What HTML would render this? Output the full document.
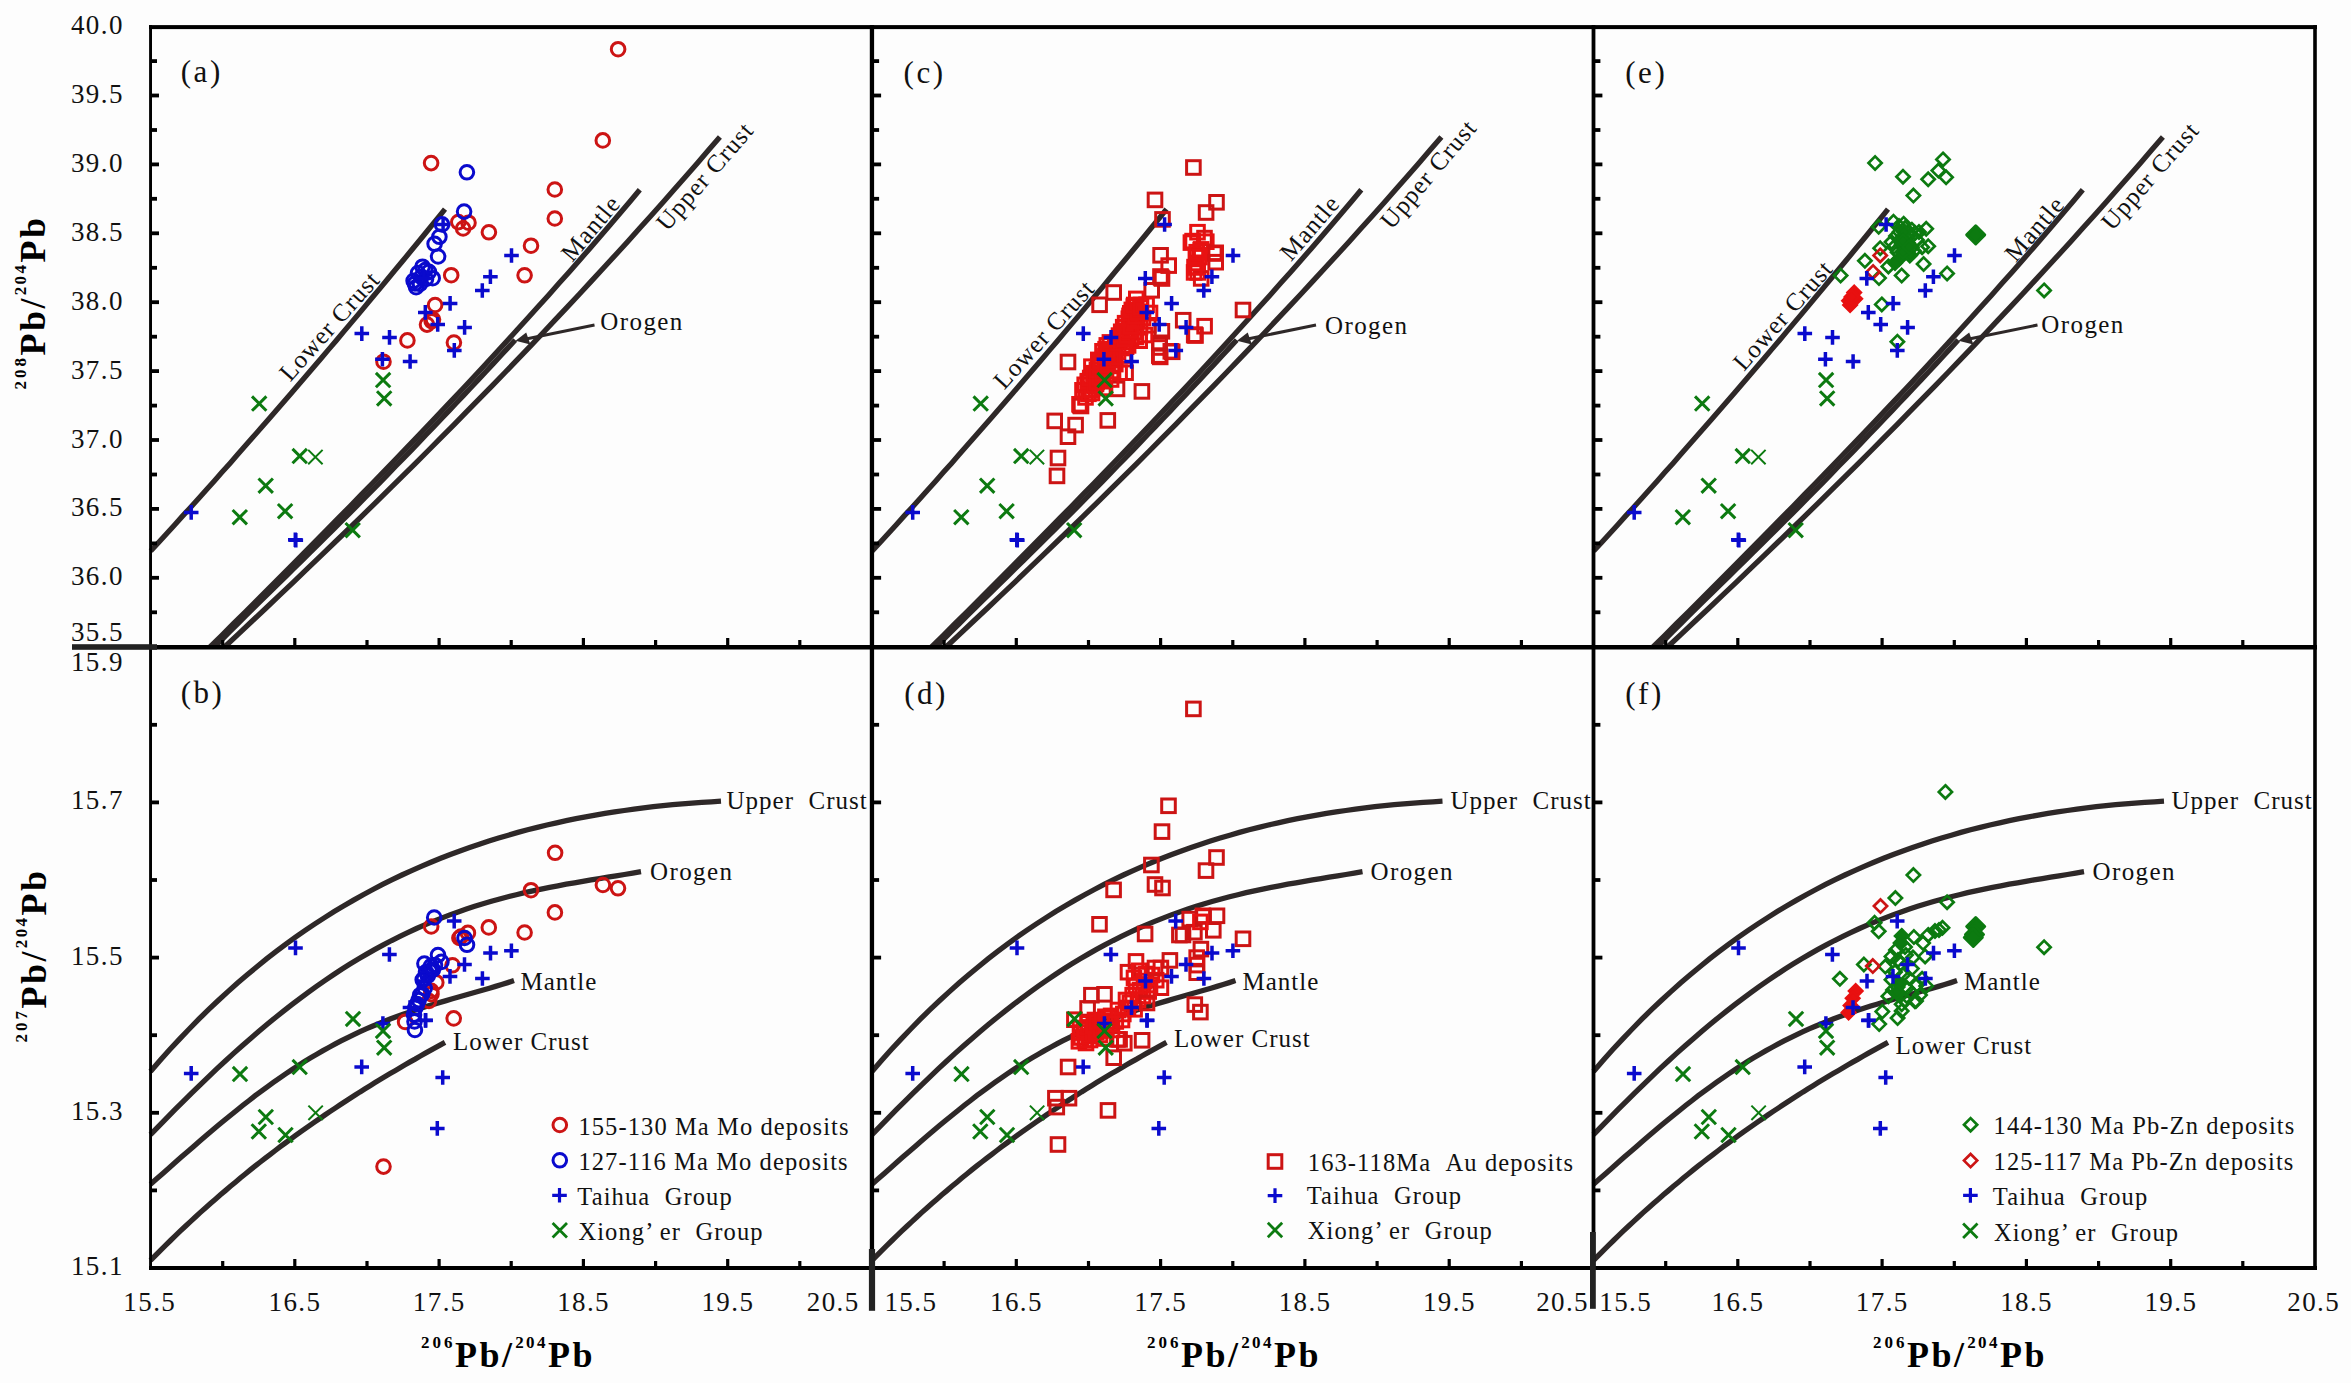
<!DOCTYPE html><html><head><meta charset="utf-8"><title>Pb isotope plots</title><style>html,body{margin:0;padding:0;background:#fdfdfd;}body{width:2351px;height:1383px;position:relative;overflow:hidden;font-family:"Liberation Serif",serif;}</style></head><body><svg width="2351" height="1383" viewBox="0 0 2351 1383" style="position:absolute;left:0;top:0">
<rect width="2351" height="1383" fill="#fdfdfd"/>
<g fill="none" stroke="#2e2828" stroke-width="5.3" stroke-linecap="butt">
<path d="M445.0,209.2 L437.9,218.0 L430.7,226.7 L423.6,235.5 L416.4,244.3 L409.2,253.0 L402.0,261.8 L394.7,270.5 L387.5,279.3 L380.2,288.1 L372.9,296.8 L365.6,305.6 L358.3,314.4 L350.9,323.1 L343.5,331.9 L336.1,340.7 L328.7,349.4 L321.2,358.2 L313.7,367.0 L306.2,375.7 L298.7,384.5 L291.2,393.2 L283.6,402.0 L276.0,410.8 L268.4,419.5 L260.7,428.3 L253.0,437.1 L245.3,445.8 L237.6,454.6 L229.9,463.4 L222.1,472.1 L214.3,480.9 L206.4,489.7 L198.6,498.4 L190.7,507.2 L182.7,515.9 L174.8,524.7 L166.8,533.5 L158.8,542.2 L150.7,551.0"/>
<path d="M639.8,189.8 L630.0,201.5 L620.0,213.3 L610.0,225.0 L599.9,236.7 L589.8,248.4 L579.5,260.2 L569.2,271.9 L558.8,283.6 L548.3,295.4 L537.8,307.1 L527.2,318.8 L516.5,330.5 L505.8,342.3 L495.0,354.0 L484.2,365.7 L473.3,377.5 L462.3,389.2 L451.3,400.9 L440.2,412.6 L429.1,424.4 L417.9,436.1 L406.6,447.8 L395.4,459.5 L384.0,471.3 L372.7,483.0 L361.3,494.7 L349.8,506.5 L338.3,518.2 L326.8,529.9 L315.2,541.6 L303.6,553.4 L292.0,565.1 L280.3,576.8 L268.6,588.6 L256.9,600.3 L245.2,612.0 L233.4,623.7 L221.6,635.5 L209.8,647.2"/>
<path d="M719.9,137.0 L708.6,150.1 L697.3,163.2 L685.9,176.2 L674.4,189.3 L662.8,202.4 L651.2,215.5 L639.4,228.6 L627.6,241.7 L615.7,254.7 L603.7,267.8 L591.6,280.9 L579.5,294.0 L567.2,307.1 L554.9,320.1 L542.6,333.2 L530.1,346.3 L517.6,359.4 L505.0,372.5 L492.3,385.6 L479.5,398.6 L466.7,411.7 L453.8,424.8 L440.8,437.9 L427.8,451.0 L414.7,464.1 L401.5,477.1 L388.3,490.2 L374.9,503.3 L361.6,516.4 L348.1,529.5 L334.6,542.5 L321.0,555.6 L307.4,568.7 L293.7,581.8 L279.9,594.9 L266.1,608.0 L252.2,621.0 L238.3,634.1 L224.3,647.2"/>
<path d="M515.2,340.0 L507.9,347.9 L500.6,355.8 L493.3,363.6 L486.0,371.5 L478.6,379.4 L471.2,387.3 L463.8,395.1 L456.3,403.0 L448.9,410.9 L441.4,418.8 L433.9,426.6 L426.3,434.5 L418.8,442.4 L411.2,450.3 L403.6,458.2 L395.9,466.0 L388.3,473.9 L380.6,481.8 L372.9,489.7 L365.2,497.5 L357.4,505.4 L349.5,513.3 L341.6,521.2 L333.7,529.0 L325.8,536.9 L317.8,544.8 L309.9,552.7 L301.9,560.6 L293.9,568.4 L285.9,576.3 L277.9,584.2 L269.8,592.1 L261.8,599.9 L253.7,607.8 L245.8,615.7 L237.9,623.6 L230.0,631.4 L222.1,639.3 L214.2,647.2"/>
<path d="M150.5,1071.5 L160.2,1060.3 L169.8,1049.6 L179.5,1039.1 L189.2,1029.0 L198.8,1019.2 L208.5,1009.7 L218.2,1000.5 L227.9,991.6 L237.5,983.0 L247.2,974.7 L256.9,966.7 L266.5,958.9 L276.2,951.4 L285.9,944.1 L295.5,937.1 L305.2,930.4 L314.9,923.9 L324.6,917.6 L334.2,911.5 L343.9,905.7 L353.6,900.1 L363.2,894.7 L372.9,889.5 L382.6,884.4 L392.2,879.6 L401.9,875.0 L411.6,870.6 L421.2,866.3 L430.9,862.2 L440.6,858.3 L450.3,854.5 L459.9,850.9 L469.6,847.5 L479.3,844.2 L488.9,841.0 L498.6,838.0 L508.3,835.2 L517.9,832.4 L527.6,829.8 L537.3,827.4 L546.9,825.0 L556.6,822.8 L566.3,820.7 L576.0,818.7 L585.6,816.9 L595.3,815.1 L605.0,813.4 L614.6,811.9 L624.3,810.5 L634.0,809.1 L643.6,807.9 L653.3,806.7 L663.0,805.7 L672.7,804.7 L682.3,803.8 L692.0,803.1 L701.7,802.4 L711.3,801.8 L721.0,801.2"/>
<path d="M150.5,1134.7 L158.8,1126.1 L167.1,1117.6 L175.4,1109.2 L183.8,1100.9 L192.1,1092.7 L200.4,1084.6 L208.7,1076.6 L217.0,1068.7 L225.3,1061.0 L233.6,1053.4 L241.9,1046.0 L250.3,1038.7 L258.6,1031.5 L266.9,1024.5 L275.2,1017.7 L283.5,1011.1 L291.8,1004.6 L300.1,998.3 L308.5,992.1 L316.8,986.2 L325.1,980.4 L333.4,974.8 L341.7,969.3 L350.0,964.1 L358.3,959.0 L366.7,954.1 L375.0,949.4 L383.3,944.9 L391.6,940.5 L399.9,936.4 L408.2,932.4 L416.5,928.5 L424.8,924.9 L433.2,921.4 L441.5,918.1 L449.8,914.9 L458.1,911.9 L466.4,909.0 L474.7,906.3 L483.0,903.7 L491.4,901.3 L499.7,899.0 L508.0,896.8 L516.3,894.7 L524.6,892.7 L532.9,890.9 L541.2,889.1 L549.6,887.4 L557.9,885.8 L566.2,884.2 L574.5,882.8 L582.8,881.3 L591.1,879.9 L599.4,878.6 L607.7,877.2 L616.1,875.9 L624.4,874.5 L632.7,873.1 L641.0,871.7"/>
<path d="M150.5,1184.2 L156.7,1178.8 L162.8,1173.4 L169.0,1168.0 L175.1,1162.6 L181.3,1157.1 L187.5,1151.8 L193.6,1146.4 L199.8,1141.0 L205.9,1135.8 L212.1,1130.5 L218.3,1125.3 L224.4,1120.2 L230.6,1115.2 L236.8,1110.2 L242.9,1105.3 L249.1,1100.5 L255.2,1095.7 L261.4,1091.1 L267.6,1086.6 L273.7,1082.2 L279.9,1077.8 L286.0,1073.6 L292.2,1069.5 L298.4,1065.5 L304.5,1061.6 L310.7,1057.8 L316.8,1054.2 L323.0,1050.6 L329.2,1047.2 L335.3,1043.9 L341.5,1040.7 L347.7,1037.6 L353.8,1034.6 L360.0,1031.7 L366.1,1028.9 L372.3,1026.3 L378.5,1023.7 L384.6,1021.2 L390.8,1018.8 L396.9,1016.5 L403.1,1014.3 L409.3,1012.2 L415.4,1010.1 L421.6,1008.1 L427.7,1006.1 L433.9,1004.2 L440.1,1002.4 L446.2,1000.6 L452.4,998.8 L458.6,997.0 L464.7,995.3 L470.9,993.5 L477.0,991.8 L483.2,990.0 L489.4,988.2 L495.5,986.4 L501.7,984.5 L507.8,982.6 L514.0,980.6"/>
<path d="M150.5,1260.4 L155.5,1255.3 L160.5,1250.3 L165.5,1245.4 L170.5,1240.5 L175.5,1235.7 L180.4,1230.9 L185.4,1226.2 L190.4,1221.6 L195.4,1217.0 L200.4,1212.4 L205.4,1208.0 L210.4,1203.5 L215.4,1199.2 L220.4,1194.8 L225.4,1190.6 L230.4,1186.3 L235.4,1182.2 L240.3,1178.0 L245.3,1174.0 L250.3,1169.9 L255.3,1165.9 L260.3,1162.0 L265.3,1158.1 L270.3,1154.3 L275.3,1150.5 L280.3,1146.7 L285.3,1143.0 L290.3,1139.3 L295.3,1135.7 L300.2,1132.1 L305.2,1128.6 L310.2,1125.1 L315.2,1121.6 L320.2,1118.2 L325.2,1114.8 L330.2,1111.4 L335.2,1108.1 L340.2,1104.8 L345.2,1101.5 L350.2,1098.3 L355.2,1095.1 L360.1,1091.9 L365.1,1088.8 L370.1,1085.7 L375.1,1082.6 L380.1,1079.6 L385.1,1076.6 L390.1,1073.6 L395.1,1070.7 L400.1,1067.7 L405.1,1064.8 L410.1,1061.9 L415.1,1059.1 L420.0,1056.2 L425.0,1053.4 L430.0,1050.6 L435.0,1047.9 L440.0,1045.1 L445.0,1042.4"/>
</g>
<path d="M594.5,325.0 L526.0,339.0" stroke="#2e2828" stroke-width="3" fill="none"/>
<path d="M515.5,340.8 L526.2,332.6 L530.4,344.6 Z" fill="#2e2828"/>
<g fill="none" stroke="#2e2828" stroke-width="5.3" stroke-linecap="butt">
<path d="M1166.5,209.2 L1159.4,218.0 L1152.2,226.7 L1145.1,235.5 L1137.9,244.3 L1130.7,253.0 L1123.5,261.8 L1116.2,270.5 L1109.0,279.3 L1101.7,288.1 L1094.4,296.8 L1087.1,305.6 L1079.8,314.4 L1072.4,323.1 L1065.0,331.9 L1057.6,340.7 L1050.2,349.4 L1042.7,358.2 L1035.2,367.0 L1027.7,375.7 L1020.2,384.5 L1012.7,393.2 L1005.1,402.0 L997.5,410.8 L989.9,419.5 L982.2,428.3 L974.5,437.1 L966.8,445.8 L959.1,454.6 L951.4,463.4 L943.6,472.1 L935.8,480.9 L927.9,489.7 L920.1,498.4 L912.2,507.2 L904.2,515.9 L896.3,524.7 L888.3,533.5 L880.3,542.2 L872.2,551.0"/>
<path d="M1361.3,189.8 L1351.5,201.5 L1341.5,213.3 L1331.5,225.0 L1321.4,236.7 L1311.3,248.4 L1301.0,260.2 L1290.7,271.9 L1280.3,283.6 L1269.8,295.4 L1259.3,307.1 L1248.7,318.8 L1238.0,330.5 L1227.3,342.3 L1216.5,354.0 L1205.7,365.7 L1194.8,377.5 L1183.8,389.2 L1172.8,400.9 L1161.7,412.6 L1150.6,424.4 L1139.4,436.1 L1128.1,447.8 L1116.9,459.5 L1105.5,471.3 L1094.2,483.0 L1082.8,494.7 L1071.3,506.5 L1059.8,518.2 L1048.3,529.9 L1036.7,541.6 L1025.1,553.4 L1013.5,565.1 L1001.8,576.8 L990.1,588.6 L978.4,600.3 L966.7,612.0 L954.9,623.7 L943.1,635.5 L931.3,647.2"/>
<path d="M1441.4,137.0 L1430.1,150.1 L1418.8,163.2 L1407.4,176.2 L1395.9,189.3 L1384.3,202.4 L1372.7,215.5 L1360.9,228.6 L1349.1,241.7 L1337.2,254.7 L1325.2,267.8 L1313.1,280.9 L1301.0,294.0 L1288.7,307.1 L1276.4,320.1 L1264.1,333.2 L1251.6,346.3 L1239.1,359.4 L1226.5,372.5 L1213.8,385.6 L1201.0,398.6 L1188.2,411.7 L1175.3,424.8 L1162.3,437.9 L1149.3,451.0 L1136.2,464.1 L1123.0,477.1 L1109.8,490.2 L1096.4,503.3 L1083.1,516.4 L1069.6,529.5 L1056.1,542.5 L1042.5,555.6 L1028.9,568.7 L1015.2,581.8 L1001.4,594.9 L987.6,608.0 L973.7,621.0 L959.8,634.1 L945.8,647.2"/>
<path d="M1236.7,340.0 L1229.4,347.9 L1222.1,355.8 L1214.8,363.6 L1207.5,371.5 L1200.1,379.4 L1192.7,387.3 L1185.3,395.1 L1177.8,403.0 L1170.4,410.9 L1162.9,418.8 L1155.4,426.6 L1147.8,434.5 L1140.3,442.4 L1132.7,450.3 L1125.1,458.2 L1117.4,466.0 L1109.8,473.9 L1102.1,481.8 L1094.4,489.7 L1086.7,497.5 L1078.9,505.4 L1071.0,513.3 L1063.1,521.2 L1055.2,529.0 L1047.3,536.9 L1039.3,544.8 L1031.4,552.7 L1023.4,560.6 L1015.4,568.4 L1007.4,576.3 L999.4,584.2 L991.3,592.1 L983.3,599.9 L975.2,607.8 L967.3,615.7 L959.4,623.6 L951.5,631.4 L943.6,639.3 L935.7,647.2"/>
<path d="M872.0,1071.5 L881.7,1060.3 L891.3,1049.6 L901.0,1039.1 L910.7,1029.0 L920.3,1019.2 L930.0,1009.7 L939.7,1000.5 L949.4,991.6 L959.0,983.0 L968.7,974.7 L978.4,966.7 L988.0,958.9 L997.7,951.4 L1007.4,944.1 L1017.0,937.1 L1026.7,930.4 L1036.4,923.9 L1046.1,917.6 L1055.7,911.5 L1065.4,905.7 L1075.1,900.1 L1084.7,894.7 L1094.4,889.5 L1104.1,884.4 L1113.7,879.6 L1123.4,875.0 L1133.1,870.6 L1142.7,866.3 L1152.4,862.2 L1162.1,858.3 L1171.8,854.5 L1181.4,850.9 L1191.1,847.5 L1200.8,844.2 L1210.4,841.0 L1220.1,838.0 L1229.8,835.2 L1239.4,832.4 L1249.1,829.8 L1258.8,827.4 L1268.4,825.0 L1278.1,822.8 L1287.8,820.7 L1297.5,818.7 L1307.1,816.9 L1316.8,815.1 L1326.5,813.4 L1336.1,811.9 L1345.8,810.5 L1355.5,809.1 L1365.1,807.9 L1374.8,806.7 L1384.5,805.7 L1394.2,804.7 L1403.8,803.8 L1413.5,803.1 L1423.2,802.4 L1432.8,801.8 L1442.5,801.2"/>
<path d="M872.0,1134.7 L880.3,1126.1 L888.6,1117.6 L896.9,1109.2 L905.3,1100.9 L913.6,1092.7 L921.9,1084.6 L930.2,1076.6 L938.5,1068.7 L946.8,1061.0 L955.1,1053.4 L963.4,1046.0 L971.8,1038.7 L980.1,1031.5 L988.4,1024.5 L996.7,1017.7 L1005.0,1011.1 L1013.3,1004.6 L1021.6,998.3 L1030.0,992.1 L1038.3,986.2 L1046.6,980.4 L1054.9,974.8 L1063.2,969.3 L1071.5,964.1 L1079.8,959.0 L1088.2,954.1 L1096.5,949.4 L1104.8,944.9 L1113.1,940.5 L1121.4,936.4 L1129.7,932.4 L1138.0,928.5 L1146.3,924.9 L1154.7,921.4 L1163.0,918.1 L1171.3,914.9 L1179.6,911.9 L1187.9,909.0 L1196.2,906.3 L1204.5,903.7 L1212.9,901.3 L1221.2,899.0 L1229.5,896.8 L1237.8,894.7 L1246.1,892.7 L1254.4,890.9 L1262.7,889.1 L1271.1,887.4 L1279.4,885.8 L1287.7,884.2 L1296.0,882.8 L1304.3,881.3 L1312.6,879.9 L1320.9,878.6 L1329.2,877.2 L1337.6,875.9 L1345.9,874.5 L1354.2,873.1 L1362.5,871.7"/>
<path d="M872.0,1184.2 L878.2,1178.8 L884.3,1173.4 L890.5,1168.0 L896.6,1162.6 L902.8,1157.1 L909.0,1151.8 L915.1,1146.4 L921.3,1141.0 L927.4,1135.8 L933.6,1130.5 L939.8,1125.3 L945.9,1120.2 L952.1,1115.2 L958.3,1110.2 L964.4,1105.3 L970.6,1100.5 L976.7,1095.7 L982.9,1091.1 L989.1,1086.6 L995.2,1082.2 L1001.4,1077.8 L1007.5,1073.6 L1013.7,1069.5 L1019.9,1065.5 L1026.0,1061.6 L1032.2,1057.8 L1038.3,1054.2 L1044.5,1050.6 L1050.7,1047.2 L1056.8,1043.9 L1063.0,1040.7 L1069.2,1037.6 L1075.3,1034.6 L1081.5,1031.7 L1087.6,1028.9 L1093.8,1026.3 L1100.0,1023.7 L1106.1,1021.2 L1112.3,1018.8 L1118.4,1016.5 L1124.6,1014.3 L1130.8,1012.2 L1136.9,1010.1 L1143.1,1008.1 L1149.2,1006.1 L1155.4,1004.2 L1161.6,1002.4 L1167.7,1000.6 L1173.9,998.8 L1180.1,997.0 L1186.2,995.3 L1192.4,993.5 L1198.5,991.8 L1204.7,990.0 L1210.9,988.2 L1217.0,986.4 L1223.2,984.5 L1229.3,982.6 L1235.5,980.6"/>
<path d="M872.0,1260.4 L877.0,1255.3 L882.0,1250.3 L887.0,1245.4 L892.0,1240.5 L897.0,1235.7 L901.9,1230.9 L906.9,1226.2 L911.9,1221.6 L916.9,1217.0 L921.9,1212.4 L926.9,1208.0 L931.9,1203.5 L936.9,1199.2 L941.9,1194.8 L946.9,1190.6 L951.9,1186.3 L956.9,1182.2 L961.8,1178.0 L966.8,1174.0 L971.8,1169.9 L976.8,1165.9 L981.8,1162.0 L986.8,1158.1 L991.8,1154.3 L996.8,1150.5 L1001.8,1146.7 L1006.8,1143.0 L1011.8,1139.3 L1016.8,1135.7 L1021.7,1132.1 L1026.7,1128.6 L1031.7,1125.1 L1036.7,1121.6 L1041.7,1118.2 L1046.7,1114.8 L1051.7,1111.4 L1056.7,1108.1 L1061.7,1104.8 L1066.7,1101.5 L1071.7,1098.3 L1076.7,1095.1 L1081.6,1091.9 L1086.6,1088.8 L1091.6,1085.7 L1096.6,1082.6 L1101.6,1079.6 L1106.6,1076.6 L1111.6,1073.6 L1116.6,1070.7 L1121.6,1067.7 L1126.6,1064.8 L1131.6,1061.9 L1136.6,1059.1 L1141.5,1056.2 L1146.5,1053.4 L1151.5,1050.6 L1156.5,1047.9 L1161.5,1045.1 L1166.5,1042.4"/>
</g>
<path d="M1316.0,325.0 L1247.5,339.0" stroke="#2e2828" stroke-width="3" fill="none"/>
<path d="M1237.0,340.8 L1247.7,332.6 L1251.9,344.6 Z" fill="#2e2828"/>
<g fill="none" stroke="#2e2828" stroke-width="5.3" stroke-linecap="butt">
<path d="M1888.0,209.2 L1880.9,218.0 L1873.7,226.7 L1866.6,235.5 L1859.4,244.3 L1852.2,253.0 L1845.0,261.8 L1837.7,270.5 L1830.5,279.3 L1823.2,288.1 L1815.9,296.8 L1808.6,305.6 L1801.3,314.4 L1793.9,323.1 L1786.5,331.9 L1779.1,340.7 L1771.7,349.4 L1764.2,358.2 L1756.7,367.0 L1749.2,375.7 L1741.7,384.5 L1734.2,393.2 L1726.6,402.0 L1719.0,410.8 L1711.4,419.5 L1703.7,428.3 L1696.0,437.1 L1688.3,445.8 L1680.6,454.6 L1672.9,463.4 L1665.1,472.1 L1657.3,480.9 L1649.4,489.7 L1641.6,498.4 L1633.7,507.2 L1625.7,515.9 L1617.8,524.7 L1609.8,533.5 L1601.8,542.2 L1593.7,551.0"/>
<path d="M2082.8,189.8 L2073.0,201.5 L2063.0,213.3 L2053.0,225.0 L2042.9,236.7 L2032.8,248.4 L2022.5,260.2 L2012.2,271.9 L2001.8,283.6 L1991.3,295.4 L1980.8,307.1 L1970.2,318.8 L1959.5,330.5 L1948.8,342.3 L1938.0,354.0 L1927.2,365.7 L1916.3,377.5 L1905.3,389.2 L1894.3,400.9 L1883.2,412.6 L1872.1,424.4 L1860.9,436.1 L1849.6,447.8 L1838.4,459.5 L1827.0,471.3 L1815.7,483.0 L1804.3,494.7 L1792.8,506.5 L1781.3,518.2 L1769.8,529.9 L1758.2,541.6 L1746.6,553.4 L1735.0,565.1 L1723.3,576.8 L1711.6,588.6 L1699.9,600.3 L1688.2,612.0 L1676.4,623.7 L1664.6,635.5 L1652.8,647.2"/>
<path d="M2162.9,137.0 L2151.6,150.1 L2140.3,163.2 L2128.9,176.2 L2117.4,189.3 L2105.8,202.4 L2094.2,215.5 L2082.4,228.6 L2070.6,241.7 L2058.7,254.7 L2046.7,267.8 L2034.6,280.9 L2022.5,294.0 L2010.2,307.1 L1997.9,320.1 L1985.6,333.2 L1973.1,346.3 L1960.6,359.4 L1948.0,372.5 L1935.3,385.6 L1922.5,398.6 L1909.7,411.7 L1896.8,424.8 L1883.8,437.9 L1870.8,451.0 L1857.7,464.1 L1844.5,477.1 L1831.3,490.2 L1817.9,503.3 L1804.6,516.4 L1791.1,529.5 L1777.6,542.5 L1764.0,555.6 L1750.4,568.7 L1736.7,581.8 L1722.9,594.9 L1709.1,608.0 L1695.2,621.0 L1681.3,634.1 L1667.3,647.2"/>
<path d="M1958.2,340.0 L1950.9,347.9 L1943.6,355.8 L1936.3,363.6 L1929.0,371.5 L1921.6,379.4 L1914.2,387.3 L1906.8,395.1 L1899.3,403.0 L1891.9,410.9 L1884.4,418.8 L1876.9,426.6 L1869.3,434.5 L1861.8,442.4 L1854.2,450.3 L1846.6,458.2 L1838.9,466.0 L1831.3,473.9 L1823.6,481.8 L1815.9,489.7 L1808.2,497.5 L1800.4,505.4 L1792.5,513.3 L1784.6,521.2 L1776.7,529.0 L1768.8,536.9 L1760.8,544.8 L1752.9,552.7 L1744.9,560.6 L1736.9,568.4 L1728.9,576.3 L1720.9,584.2 L1712.8,592.1 L1704.8,599.9 L1696.7,607.8 L1688.8,615.7 L1680.9,623.6 L1673.0,631.4 L1665.1,639.3 L1657.2,647.2"/>
<path d="M1593.5,1071.5 L1603.2,1060.3 L1612.8,1049.6 L1622.5,1039.1 L1632.2,1029.0 L1641.8,1019.2 L1651.5,1009.7 L1661.2,1000.5 L1670.9,991.6 L1680.5,983.0 L1690.2,974.7 L1699.9,966.7 L1709.5,958.9 L1719.2,951.4 L1728.9,944.1 L1738.5,937.1 L1748.2,930.4 L1757.9,923.9 L1767.6,917.6 L1777.2,911.5 L1786.9,905.7 L1796.6,900.1 L1806.2,894.7 L1815.9,889.5 L1825.6,884.4 L1835.2,879.6 L1844.9,875.0 L1854.6,870.6 L1864.2,866.3 L1873.9,862.2 L1883.6,858.3 L1893.3,854.5 L1902.9,850.9 L1912.6,847.5 L1922.3,844.2 L1931.9,841.0 L1941.6,838.0 L1951.3,835.2 L1960.9,832.4 L1970.6,829.8 L1980.3,827.4 L1989.9,825.0 L1999.6,822.8 L2009.3,820.7 L2019.0,818.7 L2028.6,816.9 L2038.3,815.1 L2048.0,813.4 L2057.6,811.9 L2067.3,810.5 L2077.0,809.1 L2086.6,807.9 L2096.3,806.7 L2106.0,805.7 L2115.7,804.7 L2125.3,803.8 L2135.0,803.1 L2144.7,802.4 L2154.3,801.8 L2164.0,801.2"/>
<path d="M1593.5,1134.7 L1601.8,1126.1 L1610.1,1117.6 L1618.4,1109.2 L1626.8,1100.9 L1635.1,1092.7 L1643.4,1084.6 L1651.7,1076.6 L1660.0,1068.7 L1668.3,1061.0 L1676.6,1053.4 L1684.9,1046.0 L1693.3,1038.7 L1701.6,1031.5 L1709.9,1024.5 L1718.2,1017.7 L1726.5,1011.1 L1734.8,1004.6 L1743.1,998.3 L1751.5,992.1 L1759.8,986.2 L1768.1,980.4 L1776.4,974.8 L1784.7,969.3 L1793.0,964.1 L1801.3,959.0 L1809.7,954.1 L1818.0,949.4 L1826.3,944.9 L1834.6,940.5 L1842.9,936.4 L1851.2,932.4 L1859.5,928.5 L1867.8,924.9 L1876.2,921.4 L1884.5,918.1 L1892.8,914.9 L1901.1,911.9 L1909.4,909.0 L1917.7,906.3 L1926.0,903.7 L1934.4,901.3 L1942.7,899.0 L1951.0,896.8 L1959.3,894.7 L1967.6,892.7 L1975.9,890.9 L1984.2,889.1 L1992.6,887.4 L2000.9,885.8 L2009.2,884.2 L2017.5,882.8 L2025.8,881.3 L2034.1,879.9 L2042.4,878.6 L2050.7,877.2 L2059.1,875.9 L2067.4,874.5 L2075.7,873.1 L2084.0,871.7"/>
<path d="M1593.5,1184.2 L1599.7,1178.8 L1605.8,1173.4 L1612.0,1168.0 L1618.1,1162.6 L1624.3,1157.1 L1630.5,1151.8 L1636.6,1146.4 L1642.8,1141.0 L1648.9,1135.8 L1655.1,1130.5 L1661.3,1125.3 L1667.4,1120.2 L1673.6,1115.2 L1679.8,1110.2 L1685.9,1105.3 L1692.1,1100.5 L1698.2,1095.7 L1704.4,1091.1 L1710.6,1086.6 L1716.7,1082.2 L1722.9,1077.8 L1729.0,1073.6 L1735.2,1069.5 L1741.4,1065.5 L1747.5,1061.6 L1753.7,1057.8 L1759.8,1054.2 L1766.0,1050.6 L1772.2,1047.2 L1778.3,1043.9 L1784.5,1040.7 L1790.7,1037.6 L1796.8,1034.6 L1803.0,1031.7 L1809.1,1028.9 L1815.3,1026.3 L1821.5,1023.7 L1827.6,1021.2 L1833.8,1018.8 L1839.9,1016.5 L1846.1,1014.3 L1852.3,1012.2 L1858.4,1010.1 L1864.6,1008.1 L1870.7,1006.1 L1876.9,1004.2 L1883.1,1002.4 L1889.2,1000.6 L1895.4,998.8 L1901.6,997.0 L1907.7,995.3 L1913.9,993.5 L1920.0,991.8 L1926.2,990.0 L1932.4,988.2 L1938.5,986.4 L1944.7,984.5 L1950.8,982.6 L1957.0,980.6"/>
<path d="M1593.5,1260.4 L1598.5,1255.3 L1603.5,1250.3 L1608.5,1245.4 L1613.5,1240.5 L1618.5,1235.7 L1623.4,1230.9 L1628.4,1226.2 L1633.4,1221.6 L1638.4,1217.0 L1643.4,1212.4 L1648.4,1208.0 L1653.4,1203.5 L1658.4,1199.2 L1663.4,1194.8 L1668.4,1190.6 L1673.4,1186.3 L1678.4,1182.2 L1683.3,1178.0 L1688.3,1174.0 L1693.3,1169.9 L1698.3,1165.9 L1703.3,1162.0 L1708.3,1158.1 L1713.3,1154.3 L1718.3,1150.5 L1723.3,1146.7 L1728.3,1143.0 L1733.3,1139.3 L1738.3,1135.7 L1743.2,1132.1 L1748.2,1128.6 L1753.2,1125.1 L1758.2,1121.6 L1763.2,1118.2 L1768.2,1114.8 L1773.2,1111.4 L1778.2,1108.1 L1783.2,1104.8 L1788.2,1101.5 L1793.2,1098.3 L1798.2,1095.1 L1803.1,1091.9 L1808.1,1088.8 L1813.1,1085.7 L1818.1,1082.6 L1823.1,1079.6 L1828.1,1076.6 L1833.1,1073.6 L1838.1,1070.7 L1843.1,1067.7 L1848.1,1064.8 L1853.1,1061.9 L1858.1,1059.1 L1863.0,1056.2 L1868.0,1053.4 L1873.0,1050.6 L1878.0,1047.9 L1883.0,1045.1 L1888.0,1042.4"/>
</g>
<path d="M2037.5,325.0 L1969.0,339.0" stroke="#2e2828" stroke-width="3" fill="none"/>
<path d="M1958.5,340.8 L1969.2,332.6 L1973.4,344.6 Z" fill="#2e2828"/>
<circle cx="618.1" cy="49.2" r="6.8" stroke="#cc1414" stroke-width="3.0" fill="none"/>
<circle cx="602.8" cy="140.4" r="6.8" stroke="#cc1414" stroke-width="3.0" fill="none"/>
<circle cx="431.1" cy="163.1" r="6.8" stroke="#cc1414" stroke-width="3.0" fill="none"/>
<circle cx="554.8" cy="189.5" r="6.8" stroke="#cc1414" stroke-width="3.0" fill="none"/>
<circle cx="554.8" cy="218.5" r="6.8" stroke="#cc1414" stroke-width="3.0" fill="none"/>
<circle cx="488.9" cy="232.3" r="6.8" stroke="#cc1414" stroke-width="3.0" fill="none"/>
<circle cx="531.0" cy="245.7" r="6.8" stroke="#cc1414" stroke-width="3.0" fill="none"/>
<circle cx="524.6" cy="275.3" r="6.8" stroke="#cc1414" stroke-width="3.0" fill="none"/>
<circle cx="451.2" cy="275.2" r="6.8" stroke="#cc1414" stroke-width="3.0" fill="none"/>
<circle cx="458.3" cy="222.1" r="6.8" stroke="#cc1414" stroke-width="3.0" fill="none"/>
<circle cx="468.5" cy="222.7" r="6.8" stroke="#cc1414" stroke-width="3.0" fill="none"/>
<circle cx="463.1" cy="228.5" r="6.8" stroke="#cc1414" stroke-width="3.0" fill="none"/>
<circle cx="435.1" cy="305.0" r="6.8" stroke="#cc1414" stroke-width="3.0" fill="none"/>
<circle cx="433.0" cy="319.5" r="6.8" stroke="#cc1414" stroke-width="3.0" fill="none"/>
<circle cx="427.0" cy="324.6" r="6.8" stroke="#cc1414" stroke-width="3.0" fill="none"/>
<circle cx="431.7" cy="321.2" r="6.8" stroke="#cc1414" stroke-width="3.0" fill="none"/>
<circle cx="407.4" cy="340.4" r="6.8" stroke="#cc1414" stroke-width="3.0" fill="none"/>
<circle cx="453.9" cy="342.5" r="6.8" stroke="#cc1414" stroke-width="3.0" fill="none"/>
<circle cx="383.5" cy="361.7" r="6.8" stroke="#cc1414" stroke-width="3.0" fill="none"/>
<circle cx="466.9" cy="172.3" r="6.8" stroke="#0a0acd" stroke-width="3.0" fill="none"/>
<circle cx="464.1" cy="211.6" r="6.8" stroke="#0a0acd" stroke-width="3.0" fill="none"/>
<circle cx="442.0" cy="224.4" r="6.8" stroke="#0a0acd" stroke-width="3.0" fill="none"/>
<circle cx="439.4" cy="236.8" r="6.8" stroke="#0a0acd" stroke-width="3.0" fill="none"/>
<circle cx="434.6" cy="243.8" r="6.8" stroke="#0a0acd" stroke-width="3.0" fill="none"/>
<circle cx="438.1" cy="256.5" r="6.8" stroke="#0a0acd" stroke-width="3.0" fill="none"/>
<circle cx="422.5" cy="266.7" r="6.8" stroke="#0a0acd" stroke-width="3.0" fill="none"/>
<circle cx="428.9" cy="271.8" r="6.8" stroke="#0a0acd" stroke-width="3.0" fill="none"/>
<circle cx="432.7" cy="278.2" r="6.8" stroke="#0a0acd" stroke-width="3.0" fill="none"/>
<circle cx="421.2" cy="277.0" r="6.8" stroke="#0a0acd" stroke-width="3.0" fill="none"/>
<circle cx="413.6" cy="280.8" r="6.8" stroke="#0a0acd" stroke-width="3.0" fill="none"/>
<circle cx="416.1" cy="287.2" r="6.8" stroke="#0a0acd" stroke-width="3.0" fill="none"/>
<circle cx="425.3" cy="270.0" r="6.8" stroke="#0a0acd" stroke-width="3.0" fill="none"/>
<circle cx="418.0" cy="273.0" r="6.8" stroke="#0a0acd" stroke-width="3.0" fill="none"/>
<circle cx="426.0" cy="279.0" r="6.8" stroke="#0a0acd" stroke-width="3.0" fill="none"/>
<circle cx="415.0" cy="283.5" r="6.8" stroke="#0a0acd" stroke-width="3.0" fill="none"/>
<circle cx="420.0" cy="284.0" r="6.8" stroke="#0a0acd" stroke-width="3.0" fill="none"/>
<circle cx="555.1" cy="852.8" r="6.8" stroke="#cc1414" stroke-width="3.0" fill="none"/>
<circle cx="531.0" cy="890.2" r="6.8" stroke="#cc1414" stroke-width="3.0" fill="none"/>
<circle cx="602.9" cy="885.0" r="6.8" stroke="#cc1414" stroke-width="3.0" fill="none"/>
<circle cx="618.0" cy="888.3" r="6.8" stroke="#cc1414" stroke-width="3.0" fill="none"/>
<circle cx="554.9" cy="912.4" r="6.8" stroke="#cc1414" stroke-width="3.0" fill="none"/>
<circle cx="488.8" cy="927.4" r="6.8" stroke="#cc1414" stroke-width="3.0" fill="none"/>
<circle cx="524.6" cy="932.5" r="6.8" stroke="#cc1414" stroke-width="3.0" fill="none"/>
<circle cx="431.2" cy="926.5" r="6.8" stroke="#cc1414" stroke-width="3.0" fill="none"/>
<circle cx="467.9" cy="932.9" r="6.8" stroke="#cc1414" stroke-width="3.0" fill="none"/>
<circle cx="459.4" cy="938.0" r="6.8" stroke="#cc1414" stroke-width="3.0" fill="none"/>
<circle cx="461.0" cy="936.5" r="6.8" stroke="#cc1414" stroke-width="3.0" fill="none"/>
<circle cx="452.5" cy="965.3" r="6.8" stroke="#cc1414" stroke-width="3.0" fill="none"/>
<circle cx="436.3" cy="982.4" r="6.8" stroke="#cc1414" stroke-width="3.0" fill="none"/>
<circle cx="431.2" cy="990.9" r="6.8" stroke="#cc1414" stroke-width="3.0" fill="none"/>
<circle cx="429.0" cy="1001.0" r="6.8" stroke="#cc1414" stroke-width="3.0" fill="none"/>
<circle cx="431.5" cy="994.1" r="6.8" stroke="#cc1414" stroke-width="3.0" fill="none"/>
<circle cx="453.7" cy="1018.4" r="6.8" stroke="#cc1414" stroke-width="3.0" fill="none"/>
<circle cx="405.1" cy="1021.9" r="6.8" stroke="#cc1414" stroke-width="3.0" fill="none"/>
<circle cx="383.5" cy="1166.6" r="6.8" stroke="#cc1414" stroke-width="3.0" fill="none"/>
<circle cx="434.2" cy="917.5" r="6.8" stroke="#0a0acd" stroke-width="3.0" fill="none"/>
<circle cx="464.5" cy="938.0" r="6.8" stroke="#0a0acd" stroke-width="3.0" fill="none"/>
<circle cx="467.0" cy="944.8" r="6.8" stroke="#0a0acd" stroke-width="3.0" fill="none"/>
<circle cx="438.0" cy="955.1" r="6.8" stroke="#0a0acd" stroke-width="3.0" fill="none"/>
<circle cx="424.4" cy="963.6" r="6.8" stroke="#0a0acd" stroke-width="3.0" fill="none"/>
<circle cx="441.4" cy="961.9" r="6.8" stroke="#0a0acd" stroke-width="3.0" fill="none"/>
<circle cx="432.9" cy="969.6" r="6.8" stroke="#0a0acd" stroke-width="3.0" fill="none"/>
<circle cx="427.8" cy="975.6" r="6.8" stroke="#0a0acd" stroke-width="3.0" fill="none"/>
<circle cx="422.7" cy="979.8" r="6.8" stroke="#0a0acd" stroke-width="3.0" fill="none"/>
<circle cx="435.0" cy="965.1" r="6.8" stroke="#0a0acd" stroke-width="3.0" fill="none"/>
<circle cx="429.8" cy="971.1" r="6.8" stroke="#0a0acd" stroke-width="3.0" fill="none"/>
<circle cx="423.9" cy="978.8" r="6.8" stroke="#0a0acd" stroke-width="3.0" fill="none"/>
<circle cx="424.7" cy="988.2" r="6.8" stroke="#0a0acd" stroke-width="3.0" fill="none"/>
<circle cx="422.2" cy="994.1" r="6.8" stroke="#0a0acd" stroke-width="3.0" fill="none"/>
<circle cx="418.7" cy="1000.1" r="6.8" stroke="#0a0acd" stroke-width="3.0" fill="none"/>
<circle cx="415.3" cy="1007.8" r="6.8" stroke="#0a0acd" stroke-width="3.0" fill="none"/>
<circle cx="414.0" cy="1014.6" r="6.8" stroke="#0a0acd" stroke-width="3.0" fill="none"/>
<circle cx="414.5" cy="1021.4" r="6.8" stroke="#0a0acd" stroke-width="3.0" fill="none"/>
<circle cx="414.9" cy="1030.0" r="6.8" stroke="#0a0acd" stroke-width="3.0" fill="none"/>
<circle cx="420.1" cy="995.2" r="6.8" stroke="#0a0acd" stroke-width="3.0" fill="none"/>
<circle cx="426.0" cy="972.0" r="6.8" stroke="#0a0acd" stroke-width="3.0" fill="none"/>
<circle cx="431.0" cy="966.0" r="6.8" stroke="#0a0acd" stroke-width="3.0" fill="none"/>
<circle cx="417.0" cy="1004.0" r="6.8" stroke="#0a0acd" stroke-width="3.0" fill="none"/>
<rect x="1186.6" y="160.7" width="13.6" height="13.6" stroke="#cc1414" stroke-width="3.0" fill="none"/>
<rect x="1148.2" y="193.1" width="13.6" height="13.6" stroke="#cc1414" stroke-width="3.0" fill="none"/>
<rect x="1209.7" y="195.5" width="13.6" height="13.6" stroke="#cc1414" stroke-width="3.0" fill="none"/>
<rect x="1199.3" y="205.7" width="13.6" height="13.6" stroke="#cc1414" stroke-width="3.0" fill="none"/>
<rect x="1155.7" y="212.6" width="13.6" height="13.6" stroke="#cc1414" stroke-width="3.0" fill="none"/>
<rect x="1190.7" y="225.4" width="13.6" height="13.6" stroke="#e81212" stroke-width="3.0" fill="none"/>
<rect x="1197.7" y="231.3" width="13.6" height="13.6" stroke="#d81313" stroke-width="3.0" fill="none"/>
<rect x="1185.8" y="234.3" width="13.6" height="13.6" stroke="#e81212" stroke-width="3.0" fill="none"/>
<rect x="1193.9" y="243.3" width="13.6" height="13.6" stroke="#e81212" stroke-width="3.0" fill="none"/>
<rect x="1207.5" y="246.7" width="13.6" height="13.6" stroke="#d81313" stroke-width="3.0" fill="none"/>
<rect x="1153.8" y="248.5" width="13.6" height="13.6" stroke="#cc1414" stroke-width="3.0" fill="none"/>
<rect x="1161.9" y="258.8" width="13.6" height="13.6" stroke="#d81313" stroke-width="3.0" fill="none"/>
<rect x="1154.3" y="270.7" width="13.6" height="13.6" stroke="#d81313" stroke-width="3.0" fill="none"/>
<rect x="1153.7" y="269.7" width="13.6" height="13.6" stroke="#d81313" stroke-width="3.0" fill="none"/>
<rect x="1155.2" y="271.7" width="13.6" height="13.6" stroke="#d81313" stroke-width="3.0" fill="none"/>
<rect x="1106.9" y="285.7" width="13.6" height="13.6" stroke="#cc1414" stroke-width="3.0" fill="none"/>
<rect x="1144.9" y="283.5" width="13.6" height="13.6" stroke="#cc1414" stroke-width="3.0" fill="none"/>
<rect x="1129.5" y="292.1" width="13.6" height="13.6" stroke="#e81212" stroke-width="3.0" fill="none"/>
<rect x="1092.8" y="298.0" width="13.6" height="13.6" stroke="#cc1414" stroke-width="3.0" fill="none"/>
<rect x="1139.8" y="298.0" width="13.6" height="13.6" stroke="#e81212" stroke-width="3.0" fill="none"/>
<rect x="1127.0" y="299.8" width="13.6" height="13.6" stroke="#e81212" stroke-width="3.0" fill="none"/>
<rect x="1122.7" y="309.1" width="13.6" height="13.6" stroke="#e81212" stroke-width="3.0" fill="none"/>
<rect x="1132.9" y="305.7" width="13.6" height="13.6" stroke="#e81212" stroke-width="3.0" fill="none"/>
<rect x="1124.4" y="318.5" width="13.6" height="13.6" stroke="#e81212" stroke-width="3.0" fill="none"/>
<rect x="1127.8" y="325.4" width="13.6" height="13.6" stroke="#e81212" stroke-width="3.0" fill="none"/>
<rect x="1141.5" y="318.5" width="13.6" height="13.6" stroke="#d81313" stroke-width="3.0" fill="none"/>
<rect x="1155.1" y="324.5" width="13.6" height="13.6" stroke="#cc1414" stroke-width="3.0" fill="none"/>
<rect x="1176.4" y="313.4" width="13.6" height="13.6" stroke="#cc1414" stroke-width="3.0" fill="none"/>
<rect x="1197.8" y="319.4" width="13.6" height="13.6" stroke="#d81313" stroke-width="3.0" fill="none"/>
<rect x="1188.0" y="327.9" width="13.6" height="13.6" stroke="#d81313" stroke-width="3.0" fill="none"/>
<rect x="1188.7" y="328.7" width="13.6" height="13.6" stroke="#d81313" stroke-width="3.0" fill="none"/>
<rect x="1236.2" y="303.2" width="13.6" height="13.6" stroke="#cc1414" stroke-width="3.0" fill="none"/>
<rect x="1184.1" y="235.8" width="13.6" height="13.6" stroke="#e81212" stroke-width="3.0" fill="none"/>
<rect x="1199.5" y="234.9" width="13.6" height="13.6" stroke="#e81212" stroke-width="3.0" fill="none"/>
<rect x="1194.4" y="242.6" width="13.6" height="13.6" stroke="#e81212" stroke-width="3.0" fill="none"/>
<rect x="1208.9" y="246.0" width="13.6" height="13.6" stroke="#d81313" stroke-width="3.0" fill="none"/>
<rect x="1192.7" y="250.3" width="13.6" height="13.6" stroke="#e81212" stroke-width="3.0" fill="none"/>
<rect x="1208.9" y="255.4" width="13.6" height="13.6" stroke="#d81313" stroke-width="3.0" fill="none"/>
<rect x="1189.2" y="260.5" width="13.6" height="13.6" stroke="#e81212" stroke-width="3.0" fill="none"/>
<rect x="1190.9" y="265.6" width="13.6" height="13.6" stroke="#e81212" stroke-width="3.0" fill="none"/>
<rect x="1194.4" y="271.6" width="13.6" height="13.6" stroke="#d81313" stroke-width="3.0" fill="none"/>
<rect x="1103.1" y="335.6" width="13.6" height="13.6" stroke="#e81212" stroke-width="3.0" fill="none"/>
<rect x="1098.8" y="342.4" width="13.6" height="13.6" stroke="#e81212" stroke-width="3.0" fill="none"/>
<rect x="1119.3" y="339.9" width="13.6" height="13.6" stroke="#e81212" stroke-width="3.0" fill="none"/>
<rect x="1132.9" y="333.9" width="13.6" height="13.6" stroke="#e81212" stroke-width="3.0" fill="none"/>
<rect x="1152.6" y="340.7" width="13.6" height="13.6" stroke="#d81313" stroke-width="3.0" fill="none"/>
<rect x="1165.4" y="345.0" width="13.6" height="13.6" stroke="#cc1414" stroke-width="3.0" fill="none"/>
<rect x="1153.4" y="350.1" width="13.6" height="13.6" stroke="#d81313" stroke-width="3.0" fill="none"/>
<rect x="1061.2" y="355.2" width="13.6" height="13.6" stroke="#cc1414" stroke-width="3.0" fill="none"/>
<rect x="1073.5" y="398.3" width="13.6" height="13.6" stroke="#d81313" stroke-width="3.0" fill="none"/>
<rect x="1072.7" y="397.5" width="13.6" height="13.6" stroke="#e81212" stroke-width="3.0" fill="none"/>
<rect x="1074.2" y="399.2" width="13.6" height="13.6" stroke="#d81313" stroke-width="3.0" fill="none"/>
<rect x="1047.9" y="414.1" width="13.6" height="13.6" stroke="#cc1414" stroke-width="3.0" fill="none"/>
<rect x="1068.8" y="418.3" width="13.6" height="13.6" stroke="#cc1414" stroke-width="3.0" fill="none"/>
<rect x="1061.2" y="429.9" width="13.6" height="13.6" stroke="#cc1414" stroke-width="3.0" fill="none"/>
<rect x="1101.0" y="413.6" width="13.6" height="13.6" stroke="#cc1414" stroke-width="3.0" fill="none"/>
<rect x="1135.1" y="384.6" width="13.6" height="13.6" stroke="#cc1414" stroke-width="3.0" fill="none"/>
<rect x="1110.2" y="382.1" width="13.6" height="13.6" stroke="#cc1414" stroke-width="3.0" fill="none"/>
<rect x="1118.8" y="365.9" width="13.6" height="13.6" stroke="#d81313" stroke-width="3.0" fill="none"/>
<rect x="1152.5" y="348.8" width="13.6" height="13.6" stroke="#d81313" stroke-width="3.0" fill="none"/>
<rect x="1164.0" y="344.5" width="13.6" height="13.6" stroke="#d81313" stroke-width="3.0" fill="none"/>
<rect x="1152.9" y="336.0" width="13.6" height="13.6" stroke="#cc1414" stroke-width="3.0" fill="none"/>
<rect x="1187.4" y="328.3" width="13.6" height="13.6" stroke="#d81313" stroke-width="3.0" fill="none"/>
<rect x="1078.7" y="390.6" width="13.6" height="13.6" stroke="#e81212" stroke-width="3.0" fill="none"/>
<rect x="1082.9" y="382.9" width="13.6" height="13.6" stroke="#e81212" stroke-width="3.0" fill="none"/>
<rect x="1081.2" y="374.4" width="13.6" height="13.6" stroke="#e81212" stroke-width="3.0" fill="none"/>
<rect x="1088.0" y="367.6" width="13.6" height="13.6" stroke="#e81212" stroke-width="3.0" fill="none"/>
<rect x="1084.6" y="359.9" width="13.6" height="13.6" stroke="#e81212" stroke-width="3.0" fill="none"/>
<rect x="1091.5" y="353.1" width="13.6" height="13.6" stroke="#e81212" stroke-width="3.0" fill="none"/>
<rect x="1095.7" y="344.5" width="13.6" height="13.6" stroke="#e81212" stroke-width="3.0" fill="none"/>
<rect x="1100.0" y="338.6" width="13.6" height="13.6" stroke="#e81212" stroke-width="3.0" fill="none"/>
<rect x="1108.5" y="340.3" width="13.6" height="13.6" stroke="#e81212" stroke-width="3.0" fill="none"/>
<rect x="1112.8" y="333.4" width="13.6" height="13.6" stroke="#e81212" stroke-width="3.0" fill="none"/>
<rect x="1121.3" y="338.6" width="13.6" height="13.6" stroke="#e81212" stroke-width="3.0" fill="none"/>
<rect x="1117.1" y="348.8" width="13.6" height="13.6" stroke="#e81212" stroke-width="3.0" fill="none"/>
<rect x="1108.5" y="357.3" width="13.6" height="13.6" stroke="#e81212" stroke-width="3.0" fill="none"/>
<rect x="1112.8" y="365.9" width="13.6" height="13.6" stroke="#e81212" stroke-width="3.0" fill="none"/>
<rect x="1104.3" y="372.7" width="13.6" height="13.6" stroke="#e81212" stroke-width="3.0" fill="none"/>
<rect x="1095.7" y="374.4" width="13.6" height="13.6" stroke="#e81212" stroke-width="3.0" fill="none"/>
<rect x="1089.2" y="377.2" width="13.6" height="13.6" stroke="#e81212" stroke-width="3.0" fill="none"/>
<rect x="1093.2" y="363.2" width="13.6" height="13.6" stroke="#e81212" stroke-width="3.0" fill="none"/>
<rect x="1100.2" y="355.2" width="13.6" height="13.6" stroke="#e81212" stroke-width="3.0" fill="none"/>
<rect x="1103.2" y="347.2" width="13.6" height="13.6" stroke="#e81212" stroke-width="3.0" fill="none"/>
<rect x="1111.2" y="345.2" width="13.6" height="13.6" stroke="#e81212" stroke-width="3.0" fill="none"/>
<rect x="1106.2" y="364.2" width="13.6" height="13.6" stroke="#e81212" stroke-width="3.0" fill="none"/>
<rect x="1098.2" y="381.2" width="13.6" height="13.6" stroke="#e81212" stroke-width="3.0" fill="none"/>
<rect x="1085.2" y="386.2" width="13.6" height="13.6" stroke="#e81212" stroke-width="3.0" fill="none"/>
<rect x="1116.2" y="341.2" width="13.6" height="13.6" stroke="#e81212" stroke-width="3.0" fill="none"/>
<rect x="1124.2" y="331.2" width="13.6" height="13.6" stroke="#e81212" stroke-width="3.0" fill="none"/>
<rect x="1120.2" y="324.2" width="13.6" height="13.6" stroke="#e81212" stroke-width="3.0" fill="none"/>
<rect x="1130.2" y="314.2" width="13.6" height="13.6" stroke="#e81212" stroke-width="3.0" fill="none"/>
<rect x="1051.2" y="451.2" width="13.6" height="13.6" stroke="#cc1414" stroke-width="3.0" fill="none"/>
<rect x="1050.2" y="469.1" width="13.6" height="13.6" stroke="#cc1414" stroke-width="3.0" fill="none"/>
<rect x="1125.2" y="311.2" width="13.6" height="13.6" stroke="#e81212" stroke-width="3.0" fill="none"/>
<rect x="1133.2" y="320.2" width="13.6" height="13.6" stroke="#e81212" stroke-width="3.0" fill="none"/>
<rect x="1136.2" y="311.2" width="13.6" height="13.6" stroke="#e81212" stroke-width="3.0" fill="none"/>
<rect x="1129.2" y="330.2" width="13.6" height="13.6" stroke="#e81212" stroke-width="3.0" fill="none"/>
<rect x="1138.2" y="328.2" width="13.6" height="13.6" stroke="#e81212" stroke-width="3.0" fill="none"/>
<rect x="1143.2" y="306.2" width="13.6" height="13.6" stroke="#e81212" stroke-width="3.0" fill="none"/>
<rect x="1134.2" y="298.2" width="13.6" height="13.6" stroke="#e81212" stroke-width="3.0" fill="none"/>
<rect x="1120.2" y="330.2" width="13.6" height="13.6" stroke="#e81212" stroke-width="3.0" fill="none"/>
<rect x="1075.7" y="383.5" width="13.6" height="13.6" stroke="#e81212" stroke-width="3.0" fill="none"/>
<rect x="1081.6" y="387.0" width="13.6" height="13.6" stroke="#e81212" stroke-width="3.0" fill="none"/>
<rect x="1077.9" y="378.0" width="13.6" height="13.6" stroke="#e81212" stroke-width="3.0" fill="none"/>
<rect x="1084.7" y="382.9" width="13.6" height="13.6" stroke="#e81212" stroke-width="3.0" fill="none"/>
<rect x="1081.1" y="374.7" width="13.6" height="13.6" stroke="#e81212" stroke-width="3.0" fill="none"/>
<rect x="1087.8" y="379.4" width="13.6" height="13.6" stroke="#e81212" stroke-width="3.0" fill="none"/>
<rect x="1083.4" y="371.2" width="13.6" height="13.6" stroke="#e81212" stroke-width="3.0" fill="none"/>
<rect x="1089.8" y="375.1" width="13.6" height="13.6" stroke="#e81212" stroke-width="3.0" fill="none"/>
<rect x="1086.6" y="366.4" width="13.6" height="13.6" stroke="#e81212" stroke-width="3.0" fill="none"/>
<rect x="1092.7" y="370.0" width="13.6" height="13.6" stroke="#e81212" stroke-width="3.0" fill="none"/>
<rect x="1090.1" y="363.0" width="13.6" height="13.6" stroke="#e81212" stroke-width="3.0" fill="none"/>
<rect x="1095.8" y="366.8" width="13.6" height="13.6" stroke="#e81212" stroke-width="3.0" fill="none"/>
<rect x="1092.9" y="358.7" width="13.6" height="13.6" stroke="#e81212" stroke-width="3.0" fill="none"/>
<rect x="1098.1" y="361.3" width="13.6" height="13.6" stroke="#e81212" stroke-width="3.0" fill="none"/>
<rect x="1094.3" y="354.4" width="13.6" height="13.6" stroke="#e81212" stroke-width="3.0" fill="none"/>
<rect x="1100.8" y="357.9" width="13.6" height="13.6" stroke="#e81212" stroke-width="3.0" fill="none"/>
<rect x="1098.6" y="349.5" width="13.6" height="13.6" stroke="#e81212" stroke-width="3.0" fill="none"/>
<rect x="1104.7" y="353.5" width="13.6" height="13.6" stroke="#e81212" stroke-width="3.0" fill="none"/>
<rect x="1100.7" y="346.0" width="13.6" height="13.6" stroke="#e81212" stroke-width="3.0" fill="none"/>
<rect x="1106.1" y="350.2" width="13.6" height="13.6" stroke="#e81212" stroke-width="3.0" fill="none"/>
<rect x="1112.2" y="328.8" width="13.6" height="13.6" stroke="#e81212" stroke-width="3.0" fill="none"/>
<rect x="1118.2" y="332.5" width="13.6" height="13.6" stroke="#e81212" stroke-width="3.0" fill="none"/>
<rect x="1114.4" y="325.0" width="13.6" height="13.6" stroke="#e81212" stroke-width="3.0" fill="none"/>
<rect x="1119.7" y="328.4" width="13.6" height="13.6" stroke="#e81212" stroke-width="3.0" fill="none"/>
<rect x="1116.4" y="320.4" width="13.6" height="13.6" stroke="#e81212" stroke-width="3.0" fill="none"/>
<rect x="1122.8" y="323.7" width="13.6" height="13.6" stroke="#e81212" stroke-width="3.0" fill="none"/>
<rect x="1118.3" y="316.4" width="13.6" height="13.6" stroke="#e81212" stroke-width="3.0" fill="none"/>
<rect x="1124.1" y="319.8" width="13.6" height="13.6" stroke="#e81212" stroke-width="3.0" fill="none"/>
<rect x="1122.0" y="311.9" width="13.6" height="13.6" stroke="#e81212" stroke-width="3.0" fill="none"/>
<rect x="1127.7" y="313.9" width="13.6" height="13.6" stroke="#e81212" stroke-width="3.0" fill="none"/>
<rect x="1123.5" y="306.5" width="13.6" height="13.6" stroke="#e81212" stroke-width="3.0" fill="none"/>
<rect x="1129.1" y="309.5" width="13.6" height="13.6" stroke="#e81212" stroke-width="3.0" fill="none"/>
<rect x="1125.0" y="303.1" width="13.6" height="13.6" stroke="#e81212" stroke-width="3.0" fill="none"/>
<rect x="1130.9" y="305.0" width="13.6" height="13.6" stroke="#e81212" stroke-width="3.0" fill="none"/>
<rect x="1127.4" y="298.2" width="13.6" height="13.6" stroke="#e81212" stroke-width="3.0" fill="none"/>
<rect x="1133.7" y="300.7" width="13.6" height="13.6" stroke="#e81212" stroke-width="3.0" fill="none"/>
<rect x="1187.3" y="265.6" width="13.6" height="13.6" stroke="#e81212" stroke-width="3.0" fill="none"/>
<rect x="1187.7" y="260.3" width="13.6" height="13.6" stroke="#e81212" stroke-width="3.0" fill="none"/>
<rect x="1189.8" y="256.2" width="13.6" height="13.6" stroke="#e81212" stroke-width="3.0" fill="none"/>
<rect x="1189.1" y="249.9" width="13.6" height="13.6" stroke="#e81212" stroke-width="3.0" fill="none"/>
<rect x="1189.9" y="245.4" width="13.6" height="13.6" stroke="#e81212" stroke-width="3.0" fill="none"/>
<rect x="1186.6" y="702.1" width="13.6" height="13.6" stroke="#cc1414" stroke-width="3.0" fill="none"/>
<rect x="1161.7" y="799.0" width="13.6" height="13.6" stroke="#cc1414" stroke-width="3.0" fill="none"/>
<rect x="1155.2" y="824.8" width="13.6" height="13.6" stroke="#cc1414" stroke-width="3.0" fill="none"/>
<rect x="1144.6" y="858.2" width="13.6" height="13.6" stroke="#cc1414" stroke-width="3.0" fill="none"/>
<rect x="1209.7" y="850.7" width="13.6" height="13.6" stroke="#cc1414" stroke-width="3.0" fill="none"/>
<rect x="1199.2" y="863.8" width="13.6" height="13.6" stroke="#cc1414" stroke-width="3.0" fill="none"/>
<rect x="1106.8" y="883.1" width="13.6" height="13.6" stroke="#cc1414" stroke-width="3.0" fill="none"/>
<rect x="1148.2" y="877.7" width="13.6" height="13.6" stroke="#cc1414" stroke-width="3.0" fill="none"/>
<rect x="1155.7" y="881.2" width="13.6" height="13.6" stroke="#cc1414" stroke-width="3.0" fill="none"/>
<rect x="1092.7" y="917.5" width="13.6" height="13.6" stroke="#cc1414" stroke-width="3.0" fill="none"/>
<rect x="1196.1" y="909.0" width="13.6" height="13.6" stroke="#d81313" stroke-width="3.0" fill="none"/>
<rect x="1196.7" y="909.7" width="13.6" height="13.6" stroke="#d81313" stroke-width="3.0" fill="none"/>
<rect x="1210.2" y="909.0" width="13.6" height="13.6" stroke="#cc1414" stroke-width="3.0" fill="none"/>
<rect x="1182.9" y="912.3" width="13.6" height="13.6" stroke="#cc1414" stroke-width="3.0" fill="none"/>
<rect x="1206.5" y="923.5" width="13.6" height="13.6" stroke="#cc1414" stroke-width="3.0" fill="none"/>
<rect x="1187.6" y="925.4" width="13.6" height="13.6" stroke="#cc1414" stroke-width="3.0" fill="none"/>
<rect x="1172.6" y="928.2" width="13.6" height="13.6" stroke="#cc1414" stroke-width="3.0" fill="none"/>
<rect x="1138.3" y="927.2" width="13.6" height="13.6" stroke="#cc1414" stroke-width="3.0" fill="none"/>
<rect x="1236.2" y="932.0" width="13.6" height="13.6" stroke="#cc1414" stroke-width="3.0" fill="none"/>
<rect x="1176.2" y="928.2" width="13.6" height="13.6" stroke="#cc1414" stroke-width="3.0" fill="none"/>
<rect x="1193.6" y="915.1" width="13.6" height="13.6" stroke="#e81212" stroke-width="3.0" fill="none"/>
<rect x="1194.1" y="942.3" width="13.6" height="13.6" stroke="#cc1414" stroke-width="3.0" fill="none"/>
<rect x="1189.9" y="950.8" width="13.6" height="13.6" stroke="#d81313" stroke-width="3.0" fill="none"/>
<rect x="1190.3" y="958.3" width="13.6" height="13.6" stroke="#d81313" stroke-width="3.0" fill="none"/>
<rect x="1189.9" y="965.9" width="13.6" height="13.6" stroke="#cc1414" stroke-width="3.0" fill="none"/>
<rect x="1163.1" y="953.6" width="13.6" height="13.6" stroke="#cc1414" stroke-width="3.0" fill="none"/>
<rect x="1154.1" y="961.2" width="13.6" height="13.6" stroke="#d81313" stroke-width="3.0" fill="none"/>
<rect x="1129.2" y="954.6" width="13.6" height="13.6" stroke="#d81313" stroke-width="3.0" fill="none"/>
<rect x="1121.2" y="965.4" width="13.6" height="13.6" stroke="#d81313" stroke-width="3.0" fill="none"/>
<rect x="1132.5" y="964.0" width="13.6" height="13.6" stroke="#e81212" stroke-width="3.0" fill="none"/>
<rect x="1137.2" y="974.3" width="13.6" height="13.6" stroke="#e81212" stroke-width="3.0" fill="none"/>
<rect x="1149.4" y="973.4" width="13.6" height="13.6" stroke="#e81212" stroke-width="3.0" fill="none"/>
<rect x="1154.1" y="980.9" width="13.6" height="13.6" stroke="#d81313" stroke-width="3.0" fill="none"/>
<rect x="1141.9" y="984.7" width="13.6" height="13.6" stroke="#e81212" stroke-width="3.0" fill="none"/>
<rect x="1125.9" y="988.4" width="13.6" height="13.6" stroke="#e81212" stroke-width="3.0" fill="none"/>
<rect x="1123.1" y="995.9" width="13.6" height="13.6" stroke="#e81212" stroke-width="3.0" fill="none"/>
<rect x="1127.8" y="1002.5" width="13.6" height="13.6" stroke="#e81212" stroke-width="3.0" fill="none"/>
<rect x="1116.5" y="1007.2" width="13.6" height="13.6" stroke="#e81212" stroke-width="3.0" fill="none"/>
<rect x="1104.3" y="1009.1" width="13.6" height="13.6" stroke="#e81212" stroke-width="3.0" fill="none"/>
<rect x="1097.7" y="987.5" width="13.6" height="13.6" stroke="#cc1414" stroke-width="3.0" fill="none"/>
<rect x="1084.6" y="988.4" width="13.6" height="13.6" stroke="#cc1414" stroke-width="3.0" fill="none"/>
<rect x="1080.8" y="1001.6" width="13.6" height="13.6" stroke="#cc1414" stroke-width="3.0" fill="none"/>
<rect x="1067.6" y="1012.9" width="13.6" height="13.6" stroke="#d81313" stroke-width="3.0" fill="none"/>
<rect x="1080.8" y="1016.6" width="13.6" height="13.6" stroke="#e81212" stroke-width="3.0" fill="none"/>
<rect x="1094.9" y="1016.6" width="13.6" height="13.6" stroke="#e81212" stroke-width="3.0" fill="none"/>
<rect x="1109.0" y="1014.7" width="13.6" height="13.6" stroke="#e81212" stroke-width="3.0" fill="none"/>
<rect x="1074.2" y="1030.7" width="13.6" height="13.6" stroke="#e81212" stroke-width="3.0" fill="none"/>
<rect x="1085.5" y="1026.0" width="13.6" height="13.6" stroke="#e81212" stroke-width="3.0" fill="none"/>
<rect x="1097.7" y="1031.7" width="13.6" height="13.6" stroke="#e81212" stroke-width="3.0" fill="none"/>
<rect x="1112.8" y="1032.6" width="13.6" height="13.6" stroke="#d81313" stroke-width="3.0" fill="none"/>
<rect x="1117.5" y="1036.4" width="13.6" height="13.6" stroke="#d81313" stroke-width="3.0" fill="none"/>
<rect x="1135.3" y="1033.5" width="13.6" height="13.6" stroke="#cc1414" stroke-width="3.0" fill="none"/>
<rect x="1188.0" y="997.8" width="13.6" height="13.6" stroke="#cc1414" stroke-width="3.0" fill="none"/>
<rect x="1193.6" y="1005.3" width="13.6" height="13.6" stroke="#cc1414" stroke-width="3.0" fill="none"/>
<rect x="1110.6" y="1032.6" width="13.6" height="13.6" stroke="#d81313" stroke-width="3.0" fill="none"/>
<rect x="1106.9" y="1050.9" width="13.6" height="13.6" stroke="#cc1414" stroke-width="3.0" fill="none"/>
<rect x="1061.3" y="1060.2" width="13.6" height="13.6" stroke="#cc1414" stroke-width="3.0" fill="none"/>
<rect x="1048.6" y="1091.4" width="13.6" height="13.6" stroke="#cc1414" stroke-width="3.0" fill="none"/>
<rect x="1062.2" y="1091.4" width="13.6" height="13.6" stroke="#cc1414" stroke-width="3.0" fill="none"/>
<rect x="1050.0" y="1100.3" width="13.6" height="13.6" stroke="#cc1414" stroke-width="3.0" fill="none"/>
<rect x="1101.2" y="1103.6" width="13.6" height="13.6" stroke="#cc1414" stroke-width="3.0" fill="none"/>
<rect x="1051.2" y="1137.7" width="13.6" height="13.6" stroke="#cc1414" stroke-width="3.0" fill="none"/>
<rect x="1072.1" y="1034.5" width="13.6" height="13.6" stroke="#e81212" stroke-width="3.0" fill="none"/>
<rect x="1133.2" y="983.2" width="13.6" height="13.6" stroke="#e81212" stroke-width="3.0" fill="none"/>
<rect x="1143.2" y="978.2" width="13.6" height="13.6" stroke="#e81212" stroke-width="3.0" fill="none"/>
<rect x="1131.2" y="993.2" width="13.6" height="13.6" stroke="#e81212" stroke-width="3.0" fill="none"/>
<rect x="1136.2" y="989.2" width="13.6" height="13.6" stroke="#e81212" stroke-width="3.0" fill="none"/>
<rect x="1145.2" y="968.2" width="13.6" height="13.6" stroke="#e81212" stroke-width="3.0" fill="none"/>
<rect x="1121.2" y="1001.2" width="13.6" height="13.6" stroke="#e81212" stroke-width="3.0" fill="none"/>
<rect x="1111.2" y="1003.2" width="13.6" height="13.6" stroke="#e81212" stroke-width="3.0" fill="none"/>
<rect x="1101.2" y="1011.2" width="13.6" height="13.6" stroke="#e81212" stroke-width="3.0" fill="none"/>
<rect x="1088.2" y="1013.2" width="13.6" height="13.6" stroke="#e81212" stroke-width="3.0" fill="none"/>
<rect x="1090.2" y="1021.2" width="13.6" height="13.6" stroke="#e81212" stroke-width="3.0" fill="none"/>
<rect x="1077.2" y="1023.2" width="13.6" height="13.6" stroke="#e81212" stroke-width="3.0" fill="none"/>
<rect x="1083.2" y="1033.2" width="13.6" height="13.6" stroke="#e81212" stroke-width="3.0" fill="none"/>
<rect x="1139.2" y="967.2" width="13.6" height="13.6" stroke="#e81212" stroke-width="3.0" fill="none"/>
<rect x="1129.2" y="979.2" width="13.6" height="13.6" stroke="#e81212" stroke-width="3.0" fill="none"/>
<rect x="1119.2" y="993.2" width="13.6" height="13.6" stroke="#e81212" stroke-width="3.0" fill="none"/>
<rect x="1105.2" y="1023.2" width="13.6" height="13.6" stroke="#e81212" stroke-width="3.0" fill="none"/>
<rect x="1093.2" y="1028.2" width="13.6" height="13.6" stroke="#e81212" stroke-width="3.0" fill="none"/>
<rect x="1079.2" y="1036.2" width="13.6" height="13.6" stroke="#e81212" stroke-width="3.0" fill="none"/>
<rect x="1073.2" y="1021.2" width="13.6" height="13.6" stroke="#e81212" stroke-width="3.0" fill="none"/>
<rect x="1148.2" y="961.2" width="13.6" height="13.6" stroke="#d81313" stroke-width="3.0" fill="none"/>
<rect x="1127.2" y="971.2" width="13.6" height="13.6" stroke="#e81212" stroke-width="3.0" fill="none"/>
<rect x="1140.2" y="996.2" width="13.6" height="13.6" stroke="#d81313" stroke-width="3.0" fill="none"/>
<rect x="1115.2" y="1013.2" width="13.6" height="13.6" stroke="#e81212" stroke-width="3.0" fill="none"/>
<rect x="1074.1" y="1025.8" width="13.6" height="13.6" stroke="#e81212" stroke-width="3.0" fill="none"/>
<rect x="1078.1" y="1033.1" width="13.6" height="13.6" stroke="#e81212" stroke-width="3.0" fill="none"/>
<rect x="1078.0" y="1022.7" width="13.6" height="13.6" stroke="#e81212" stroke-width="3.0" fill="none"/>
<rect x="1082.5" y="1029.2" width="13.6" height="13.6" stroke="#e81212" stroke-width="3.0" fill="none"/>
<rect x="1081.4" y="1020.6" width="13.6" height="13.6" stroke="#e81212" stroke-width="3.0" fill="none"/>
<rect x="1086.4" y="1027.1" width="13.6" height="13.6" stroke="#e81212" stroke-width="3.0" fill="none"/>
<rect x="1087.0" y="1019.3" width="13.6" height="13.6" stroke="#e81212" stroke-width="3.0" fill="none"/>
<rect x="1089.5" y="1025.4" width="13.6" height="13.6" stroke="#e81212" stroke-width="3.0" fill="none"/>
<rect x="1089.6" y="1015.6" width="13.6" height="13.6" stroke="#e81212" stroke-width="3.0" fill="none"/>
<rect x="1093.6" y="1023.7" width="13.6" height="13.6" stroke="#e81212" stroke-width="3.0" fill="none"/>
<rect x="1094.8" y="1014.2" width="13.6" height="13.6" stroke="#e81212" stroke-width="3.0" fill="none"/>
<rect x="1099.5" y="1021.0" width="13.6" height="13.6" stroke="#e81212" stroke-width="3.0" fill="none"/>
<rect x="1098.6" y="1010.0" width="13.6" height="13.6" stroke="#e81212" stroke-width="3.0" fill="none"/>
<rect x="1103.4" y="1017.1" width="13.6" height="13.6" stroke="#e81212" stroke-width="3.0" fill="none"/>
<path d="M1875.1,156.4L1881.7,163.0L1875.1,169.6L1868.5,163.0Z" stroke="#0c7a10" stroke-width="2.7" fill="none"/>
<path d="M1943.0,152.8L1949.6,159.4L1943.0,166.0L1936.4,159.4Z" stroke="#0c7a10" stroke-width="2.7" fill="none"/>
<path d="M1903.0,170.1L1909.6,176.7L1903.0,183.3L1896.4,176.7Z" stroke="#0c7a10" stroke-width="2.7" fill="none"/>
<path d="M1938.4,164.0L1945.0,170.6L1938.4,177.2L1931.8,170.6Z" stroke="#0c7a10" stroke-width="2.7" fill="none"/>
<path d="M1928.2,172.7L1934.8,179.3L1928.2,185.9L1921.6,179.3Z" stroke="#0c7a10" stroke-width="2.7" fill="none"/>
<path d="M1946.1,170.7L1952.7,177.3L1946.1,183.9L1939.5,177.3Z" stroke="#0c7a10" stroke-width="2.7" fill="none"/>
<path d="M1913.4,189.0L1920.0,195.6L1913.4,202.2L1906.8,195.6Z" stroke="#0c7a10" stroke-width="2.7" fill="none"/>
<path d="M1878.7,220.2L1885.3,226.8L1878.7,233.4L1872.1,226.8Z" stroke="#0c7a10" stroke-width="2.7" fill="none"/>
<path d="M1893.5,215.1L1900.1,221.7L1893.5,228.3L1886.9,221.7Z" stroke="#0c7a10" stroke-width="2.7" fill="none"/>
<path d="M1926.2,222.2L1932.8,228.8L1926.2,235.4L1919.6,228.8Z" stroke="#0c7a10" stroke-width="2.7" fill="none"/>
<path d="M1903.7,217.1L1910.3,223.7L1903.7,230.3L1897.1,223.7Z" stroke="#0c7a10" stroke-width="2.7" fill="none"/>
<path d="M1899.6,225.3L1906.2,231.9L1899.6,238.5L1893.0,231.9Z" stroke="#0c7a10" stroke-width="2.7" fill="none"/>
<path d="M1906.8,230.4L1913.4,237.0L1906.8,243.6L1900.2,237.0Z" stroke="#0c7a10" stroke-width="2.7" fill="none"/>
<path d="M1911.9,223.2L1918.5,229.8L1911.9,236.4L1905.3,229.8Z" stroke="#0c7a10" stroke-width="2.7" fill="none"/>
<path d="M1917.0,233.4L1923.6,240.0L1917.0,246.6L1910.4,240.0Z" stroke="#0c7a10" stroke-width="2.7" fill="none"/>
<path d="M1901.7,237.5L1908.3,244.1L1901.7,250.7L1895.1,244.1Z" stroke="#0c7a10" stroke-width="2.7" fill="none"/>
<path d="M1891.5,235.5L1898.1,242.1L1891.5,248.7L1884.9,242.1Z" stroke="#0c7a10" stroke-width="2.7" fill="none"/>
<path d="M1911.9,240.6L1918.5,247.2L1911.9,253.8L1905.3,247.2Z" stroke="#0c7a10" stroke-width="2.7" fill="none"/>
<path d="M1897.6,245.7L1904.2,252.3L1897.6,258.9L1891.0,252.3Z" stroke="#0c7a10" stroke-width="2.7" fill="none"/>
<path d="M1909.8,248.8L1916.4,255.4L1909.8,262.0L1903.2,255.4Z" stroke="#0c7a10" stroke-width="2.7" fill="none"/>
<path d="M1922.1,240.6L1928.7,247.2L1922.1,253.8L1915.5,247.2Z" stroke="#0c7a10" stroke-width="2.7" fill="none"/>
<path d="M1928.2,239.6L1934.8,246.2L1928.2,252.8L1921.6,246.2Z" stroke="#0c7a10" stroke-width="2.7" fill="none"/>
<path d="M1880.2,241.6L1886.8,248.2L1880.2,254.8L1873.6,248.2Z" stroke="#0c7a10" stroke-width="2.7" fill="none"/>
<path d="M1864.9,254.2L1871.5,260.8L1864.9,267.4L1858.3,260.8Z" stroke="#0c7a10" stroke-width="2.7" fill="none"/>
<path d="M1888.4,259.8L1895.0,266.4L1888.4,273.0L1881.8,266.4Z" stroke="#0c7a10" stroke-width="2.7" fill="none"/>
<path d="M1923.6,257.4L1930.2,264.0L1923.6,270.6L1917.0,264.0Z" stroke="#0c7a10" stroke-width="2.7" fill="none"/>
<path d="M1901.7,268.9L1908.3,275.5L1901.7,282.1L1895.1,275.5Z" stroke="#0c7a10" stroke-width="2.7" fill="none"/>
<path d="M1947.1,266.9L1953.7,273.5L1947.1,280.1L1940.5,273.5Z" stroke="#0c7a10" stroke-width="2.7" fill="none"/>
<path d="M1840.6,268.9L1847.2,275.5L1840.6,282.1L1834.0,275.5Z" stroke="#0c7a10" stroke-width="2.7" fill="none"/>
<path d="M1879.0,271.5L1885.6,278.1L1879.0,284.7L1872.4,278.1Z" stroke="#0c7a10" stroke-width="2.7" fill="none"/>
<path d="M2044.1,283.8L2050.7,290.4L2044.1,297.0L2037.5,290.4Z" stroke="#0c7a10" stroke-width="2.7" fill="none"/>
<path d="M1881.8,297.8L1888.4,304.4L1881.8,311.0L1875.2,304.4Z" stroke="#0c7a10" stroke-width="2.7" fill="none"/>
<path d="M1897.4,335.1L1904.0,341.7L1897.4,348.3L1890.8,341.7Z" stroke="#0c7a10" stroke-width="2.7" fill="none"/>
<path d="M1905.0,221.4L1911.6,228.0L1905.0,234.6L1898.4,228.0Z" stroke="#0c7a10" stroke-width="2.7" fill="none"/>
<path d="M1908.0,226.4L1914.6,233.0L1908.0,239.6L1901.4,233.0Z" stroke="#0c7a10" stroke-width="2.7" fill="none"/>
<path d="M1902.0,231.4L1908.6,238.0L1902.0,244.6L1895.4,238.0Z" stroke="#0c7a10" stroke-width="2.7" fill="none"/>
<path d="M1896.0,229.4L1902.6,236.0L1896.0,242.6L1889.4,236.0Z" stroke="#0c7a10" stroke-width="2.7" fill="none"/>
<path d="M1912.0,229.4L1918.6,236.0L1912.0,242.6L1905.4,236.0Z" stroke="#0c7a10" stroke-width="2.7" fill="none"/>
<path d="M1904.0,241.4L1910.6,248.0L1904.0,254.6L1897.4,248.0Z" stroke="#0c7a10" stroke-width="2.7" fill="none"/>
<path d="M1908.0,236.4L1914.6,243.0L1908.0,249.6L1901.4,243.0Z" stroke="#0c7a10" stroke-width="2.7" fill="none"/>
<path d="M1915.0,226.4L1921.6,233.0L1915.0,239.6L1908.4,233.0Z" stroke="#0c7a10" stroke-width="2.7" fill="none"/>
<path d="M1899.0,219.4L1905.6,226.0L1899.0,232.6L1892.4,226.0Z" stroke="#0c7a10" stroke-width="2.7" fill="none"/>
<path d="M1894.0,240.4L1900.6,247.0L1894.0,253.6L1887.4,247.0Z" stroke="#0c7a10" stroke-width="2.7" fill="none"/>
<path d="M1906.0,245.4L1912.6,252.0L1906.0,258.6L1899.4,252.0Z" stroke="#0c7a10" stroke-width="2.7" fill="none"/>
<path d="M1914.0,244.4L1920.6,251.0L1914.0,257.6L1907.4,251.0Z" stroke="#0c7a10" stroke-width="2.7" fill="none"/>
<path d="M1919.0,225.4L1925.6,232.0L1919.0,238.6L1912.4,232.0Z" stroke="#0c7a10" stroke-width="2.7" fill="none"/>
<path d="M1900.0,234.4L1906.6,241.0L1900.0,247.6L1893.4,241.0Z" stroke="#0c7a10" stroke-width="2.7" fill="none"/>
<path d="M1899.0,252.4L1905.6,259.0L1899.0,265.6L1892.4,259.0Z" stroke="#0c7a10" stroke-width="2.7" fill="#0c7a10"/>
<path d="M1910.0,248.4L1916.6,255.0L1910.0,261.6L1903.4,255.0Z" stroke="#0c7a10" stroke-width="2.7" fill="#0c7a10"/>
<path d="M1895.0,256.4L1901.6,263.0L1895.0,269.6L1888.4,263.0Z" stroke="#0c7a10" stroke-width="2.7" fill="#0c7a10"/>
<path d="M1903.0,245.4L1909.6,252.0L1903.0,258.6L1896.4,252.0Z" stroke="#0c7a10" stroke-width="2.7" fill="#0c7a10"/>
<path d="M1904.0,225.4L1910.6,232.0L1904.0,238.6L1897.4,232.0Z" stroke="#0c7a10" stroke-width="2.7" fill="#0c7a10"/>
<path d="M1903.0,234.4L1909.6,241.0L1903.0,247.6L1896.4,241.0Z" stroke="#0c7a10" stroke-width="2.7" fill="#0c7a10"/>
<path d="M1909.0,240.4L1915.6,247.0L1909.0,253.6L1902.4,247.0Z" stroke="#0c7a10" stroke-width="2.7" fill="#0c7a10"/>
<path d="M1975.7,225.9L1984.7,234.9L1975.7,243.9L1966.7,234.9Z" stroke="#0c7a10" stroke-width="3" fill="#0c7a10" stroke-linejoin="round"/>
<path d="M1880.2,248.8L1886.8,255.4L1880.2,262.0L1873.6,255.4Z" stroke="#cc1414" stroke-width="2.7" fill="none"/>
<path d="M1873.1,265.4L1879.7,272.0L1873.1,278.6L1866.5,272.0Z" stroke="#cc1414" stroke-width="2.7" fill="none"/>
<path d="M1849.1,294.2L1855.7,300.8L1849.1,307.4L1842.5,300.8Z" stroke="#e81010" stroke-width="2.7" fill="#e81010"/>
<path d="M1854.2,286.0L1860.8,292.6L1854.2,299.2L1847.6,292.6Z" stroke="#e81010" stroke-width="2.7" fill="#e81010"/>
<path d="M1850.1,298.3L1856.7,304.9L1850.1,311.5L1843.5,304.9Z" stroke="#e81010" stroke-width="2.7" fill="#e81010"/>
<path d="M1855.2,292.1L1861.8,298.7L1855.2,305.3L1848.6,298.7Z" stroke="#e81010" stroke-width="2.7" fill="#e81010"/>
<path d="M1851.5,290.4L1858.1,297.0L1851.5,303.6L1844.9,297.0Z" stroke="#e81010" stroke-width="2.7" fill="#e81010"/>
<path d="M1945.4,785.3L1952.0,791.9L1945.4,798.5L1938.8,791.9Z" stroke="#0c7a10" stroke-width="2.7" fill="none"/>
<path d="M1913.4,868.5L1920.0,875.1L1913.4,881.7L1906.8,875.1Z" stroke="#0c7a10" stroke-width="2.7" fill="none"/>
<path d="M1895.4,891.5L1902.0,898.1L1895.4,904.7L1888.8,898.1Z" stroke="#0c7a10" stroke-width="2.7" fill="none"/>
<path d="M1947.1,895.6L1953.7,902.2L1947.1,908.8L1940.5,902.2Z" stroke="#0c7a10" stroke-width="2.7" fill="none"/>
<path d="M1874.6,916.1L1881.2,922.7L1874.6,929.3L1868.0,922.7Z" stroke="#0c7a10" stroke-width="2.7" fill="none"/>
<path d="M1878.7,924.7L1885.3,931.3L1878.7,937.9L1872.1,931.3Z" stroke="#0c7a10" stroke-width="2.7" fill="none"/>
<path d="M1942.5,921.2L1949.1,927.8L1942.5,934.4L1935.9,927.8Z" stroke="#0c7a10" stroke-width="2.7" fill="none"/>
<path d="M2044.1,940.6L2050.7,947.2L2044.1,953.8L2037.5,947.2Z" stroke="#0c7a10" stroke-width="2.7" fill="none"/>
<path d="M1928.2,928.3L1934.8,934.9L1928.2,941.5L1921.6,934.9Z" stroke="#0c7a10" stroke-width="2.7" fill="none"/>
<path d="M1913.9,930.4L1920.5,937.0L1913.9,943.6L1907.3,937.0Z" stroke="#0c7a10" stroke-width="2.7" fill="none"/>
<path d="M1923.1,936.5L1929.7,943.1L1923.1,949.7L1916.5,943.1Z" stroke="#0c7a10" stroke-width="2.7" fill="none"/>
<path d="M1891.5,949.8L1898.1,956.4L1891.5,963.0L1884.9,956.4Z" stroke="#0c7a10" stroke-width="2.7" fill="none"/>
<path d="M1912.9,950.8L1919.5,957.4L1912.9,964.0L1906.3,957.4Z" stroke="#0c7a10" stroke-width="2.7" fill="none"/>
<path d="M1925.1,949.8L1931.7,956.4L1925.1,963.0L1918.5,956.4Z" stroke="#0c7a10" stroke-width="2.7" fill="none"/>
<path d="M1885.3,960.0L1891.9,966.6L1885.3,973.2L1878.7,966.6Z" stroke="#0c7a10" stroke-width="2.7" fill="none"/>
<path d="M1900.6,956.9L1907.2,963.5L1900.6,970.1L1894.0,963.5Z" stroke="#0c7a10" stroke-width="2.7" fill="none"/>
<path d="M1911.9,962.0L1918.5,968.6L1911.9,975.2L1905.3,968.6Z" stroke="#0c7a10" stroke-width="2.7" fill="none"/>
<path d="M1863.9,957.9L1870.5,964.5L1863.9,971.1L1857.3,964.5Z" stroke="#0c7a10" stroke-width="2.7" fill="none"/>
<path d="M1839.9,972.2L1846.5,978.8L1839.9,985.4L1833.3,978.8Z" stroke="#0c7a10" stroke-width="2.7" fill="none"/>
<path d="M1891.5,973.2L1898.1,979.8L1891.5,986.4L1884.9,979.8Z" stroke="#0c7a10" stroke-width="2.7" fill="none"/>
<path d="M1922.1,972.2L1928.7,978.8L1922.1,985.4L1915.5,978.8Z" stroke="#0c7a10" stroke-width="2.7" fill="none"/>
<path d="M1897.6,980.4L1904.2,987.0L1897.6,993.6L1891.0,987.0Z" stroke="#0c7a10" stroke-width="2.7" fill="none"/>
<path d="M1926.2,979.4L1932.8,986.0L1926.2,992.6L1919.6,986.0Z" stroke="#0c7a10" stroke-width="2.7" fill="none"/>
<path d="M1888.4,989.6L1895.0,996.2L1888.4,1002.8L1881.8,996.2Z" stroke="#0c7a10" stroke-width="2.7" fill="none"/>
<path d="M1911.9,986.5L1918.5,993.1L1911.9,999.7L1905.3,993.1Z" stroke="#0c7a10" stroke-width="2.7" fill="none"/>
<path d="M1920.0,988.5L1926.6,995.1L1920.0,1001.7L1913.4,995.1Z" stroke="#0c7a10" stroke-width="2.7" fill="none"/>
<path d="M1914.9,994.7L1921.5,1001.3L1914.9,1007.9L1908.3,1001.3Z" stroke="#0c7a10" stroke-width="2.7" fill="none"/>
<path d="M1901.7,997.7L1908.3,1004.3L1901.7,1010.9L1895.1,1004.3Z" stroke="#0c7a10" stroke-width="2.7" fill="none"/>
<path d="M1882.3,1005.0L1888.9,1011.6L1882.3,1018.2L1875.7,1011.6Z" stroke="#0c7a10" stroke-width="2.7" fill="none"/>
<path d="M1901.7,1004.4L1908.3,1011.0L1901.7,1017.6L1895.1,1011.0Z" stroke="#0c7a10" stroke-width="2.7" fill="none"/>
<path d="M1897.6,1011.4L1904.2,1018.0L1897.6,1024.6L1891.0,1018.0Z" stroke="#0c7a10" stroke-width="2.7" fill="none"/>
<path d="M1879.2,1017.5L1885.8,1024.1L1879.2,1030.7L1872.6,1024.1Z" stroke="#0c7a10" stroke-width="2.7" fill="none"/>
<path d="M1916.0,994.4L1922.6,1001.0L1916.0,1007.6L1909.4,1001.0Z" stroke="#0c7a10" stroke-width="2.7" fill="none"/>
<path d="M1896.0,943.4L1902.6,950.0L1896.0,956.6L1889.4,950.0Z" stroke="#0c7a10" stroke-width="2.7" fill="none"/>
<path d="M1905.0,940.4L1911.6,947.0L1905.0,953.6L1898.4,947.0Z" stroke="#0c7a10" stroke-width="2.7" fill="none"/>
<path d="M1898.0,953.4L1904.6,960.0L1898.0,966.6L1891.4,960.0Z" stroke="#0c7a10" stroke-width="2.7" fill="none"/>
<path d="M1906.0,948.4L1912.6,955.0L1906.0,961.6L1899.4,955.0Z" stroke="#0c7a10" stroke-width="2.7" fill="none"/>
<path d="M1895.0,965.4L1901.6,972.0L1895.0,978.6L1888.4,972.0Z" stroke="#0c7a10" stroke-width="2.7" fill="none"/>
<path d="M1903.0,968.4L1909.6,975.0L1903.0,981.6L1896.4,975.0Z" stroke="#0c7a10" stroke-width="2.7" fill="none"/>
<path d="M1893.0,983.4L1899.6,990.0L1893.0,996.6L1886.4,990.0Z" stroke="#0c7a10" stroke-width="2.7" fill="none"/>
<path d="M1900.0,989.4L1906.6,996.0L1900.0,1002.6L1893.4,996.0Z" stroke="#0c7a10" stroke-width="2.7" fill="none"/>
<path d="M1907.0,981.4L1913.6,988.0L1907.0,994.6L1900.4,988.0Z" stroke="#0c7a10" stroke-width="2.7" fill="none"/>
<path d="M1905.0,993.4L1911.6,1000.0L1905.0,1006.6L1898.4,1000.0Z" stroke="#0c7a10" stroke-width="2.7" fill="none"/>
<path d="M1917.0,978.4L1923.6,985.0L1917.0,991.6L1910.4,985.0Z" stroke="#0c7a10" stroke-width="2.7" fill="none"/>
<path d="M1909.0,971.4L1915.6,978.0L1909.0,984.6L1902.4,978.0Z" stroke="#0c7a10" stroke-width="2.7" fill="none"/>
<path d="M1935.0,924.4L1941.6,931.0L1935.0,937.6L1928.4,931.0Z" stroke="#0c7a10" stroke-width="2.7" fill="none"/>
<path d="M1939.0,923.4L1945.6,930.0L1939.0,936.6L1932.4,930.0Z" stroke="#0c7a10" stroke-width="2.7" fill="none"/>
<path d="M1901.7,929.3L1908.3,935.9L1901.7,942.5L1895.1,935.9Z" stroke="#0c7a10" stroke-width="2.7" fill="#0c7a10"/>
<path d="M1900.6,936.5L1907.2,943.1L1900.6,949.7L1894.0,943.1Z" stroke="#0c7a10" stroke-width="2.7" fill="#0c7a10"/>
<path d="M1899.0,977.4L1905.6,984.0L1899.0,990.6L1892.4,984.0Z" stroke="#0c7a10" stroke-width="2.7" fill="#0c7a10"/>
<path d="M1897.0,985.4L1903.6,992.0L1897.0,998.6L1890.4,992.0Z" stroke="#0c7a10" stroke-width="2.7" fill="#0c7a10"/>
<path d="M1975.7,917.5L1984.7,926.5L1975.7,935.5L1966.7,926.5Z" stroke="#0c7a10" stroke-width="3" fill="#0c7a10" stroke-linejoin="round"/>
<path d="M1974.5,925.5L1983.5,934.5L1974.5,943.5L1965.5,934.5Z" stroke="#0c7a10" stroke-width="3" fill="#0c7a10" stroke-linejoin="round"/>
<path d="M1973.3,928.5L1982.3,937.5L1973.3,946.5L1964.3,937.5Z" stroke="#0c7a10" stroke-width="3" fill="#0c7a10" stroke-linejoin="round"/>
<path d="M1880.5,899.5L1887.1,906.1L1880.5,912.7L1873.9,906.1Z" stroke="#cc1414" stroke-width="2.7" fill="none"/>
<path d="M1872.8,959.5L1879.4,966.1L1872.8,972.7L1866.2,966.1Z" stroke="#cc1414" stroke-width="2.7" fill="none"/>
<path d="M1855.7,984.5L1862.3,991.1L1855.7,997.7L1849.1,991.1Z" stroke="#e81010" stroke-width="2.7" fill="#e81010"/>
<path d="M1852.7,991.6L1859.3,998.2L1852.7,1004.8L1846.1,998.2Z" stroke="#e81010" stroke-width="2.7" fill="#e81010"/>
<path d="M1850.6,998.8L1857.2,1005.4L1850.6,1012.0L1844.0,1005.4Z" stroke="#e81010" stroke-width="2.7" fill="#e81010"/>
<path d="M1848.6,1005.9L1855.2,1012.5L1848.6,1019.1L1842.0,1012.5Z" stroke="#e81010" stroke-width="2.7" fill="#e81010"/>
<path d="M183.9,512.4H198.5M191.2,505.1V519.7" stroke="#0a0acd" stroke-width="3.5" fill="none"/>
<path d="M288.0,539.7H302.6M295.3,532.4V547.0" stroke="#0a0acd" stroke-width="3.5" fill="none"/>
<path d="M288.5,540.2H303.1M295.8,532.9V547.5" stroke="#0a0acd" stroke-width="3.5" fill="none"/>
<path d="M354.5,333.6H369.1M361.8,326.3V340.9" stroke="#0a0acd" stroke-width="3.5" fill="none"/>
<path d="M382.2,337.4H396.8M389.5,330.1V344.7" stroke="#0a0acd" stroke-width="3.5" fill="none"/>
<path d="M375.1,359.2H389.7M382.4,351.9V366.5" stroke="#0a0acd" stroke-width="3.5" fill="none"/>
<path d="M402.8,361.5H417.4M410.1,354.2V368.8" stroke="#0a0acd" stroke-width="3.5" fill="none"/>
<path d="M418.0,312.4H432.6M425.3,305.1V319.7" stroke="#0a0acd" stroke-width="3.5" fill="none"/>
<path d="M442.8,303.4H457.4M450.1,296.1V310.7" stroke="#0a0acd" stroke-width="3.5" fill="none"/>
<path d="M430.4,324.4H445.0M437.7,317.1V331.7" stroke="#0a0acd" stroke-width="3.5" fill="none"/>
<path d="M457.3,327.4H471.9M464.6,320.1V334.7" stroke="#0a0acd" stroke-width="3.5" fill="none"/>
<path d="M447.0,350.4H461.6M454.3,343.1V357.7" stroke="#0a0acd" stroke-width="3.5" fill="none"/>
<path d="M483.1,276.8H497.7M490.4,269.5V284.1" stroke="#0a0acd" stroke-width="3.5" fill="none"/>
<path d="M475.0,290.5H489.6M482.3,283.2V297.8" stroke="#0a0acd" stroke-width="3.5" fill="none"/>
<path d="M504.2,255.5H518.8M511.5,248.2V262.8" stroke="#0a0acd" stroke-width="3.5" fill="none"/>
<path d="M435.8,224.5H450.4M443.1,217.2V231.8" stroke="#0a0acd" stroke-width="3.5" fill="none"/>
<path d="M416.5,278.4H431.1M423.8,271.1V285.7" stroke="#0a0acd" stroke-width="3.5" fill="none"/>
<path d="M183.9,1073.4H198.5M191.2,1066.1V1080.7" stroke="#0a0acd" stroke-width="3.5" fill="none"/>
<path d="M288.2,947.9H302.8M295.5,940.6V955.2" stroke="#0a0acd" stroke-width="3.5" fill="none"/>
<path d="M382.1,954.5H396.7M389.4,947.2V961.8" stroke="#0a0acd" stroke-width="3.5" fill="none"/>
<path d="M354.4,1066.9H369.0M361.7,1059.6V1074.2" stroke="#0a0acd" stroke-width="3.5" fill="none"/>
<path d="M435.4,1077.5H450.0M442.7,1070.2V1084.8" stroke="#0a0acd" stroke-width="3.5" fill="none"/>
<path d="M430.0,1128.4H444.6M437.3,1121.1V1135.7" stroke="#0a0acd" stroke-width="3.5" fill="none"/>
<path d="M446.9,921.1H461.5M454.2,913.8V928.4" stroke="#0a0acd" stroke-width="3.5" fill="none"/>
<path d="M483.2,953.1H497.8M490.5,945.8V960.4" stroke="#0a0acd" stroke-width="3.5" fill="none"/>
<path d="M504.1,950.8H518.7M511.4,943.5V958.1" stroke="#0a0acd" stroke-width="3.5" fill="none"/>
<path d="M457.2,964.5H471.8M464.5,957.2V971.8" stroke="#0a0acd" stroke-width="3.5" fill="none"/>
<path d="M442.7,976.4H457.3M450.0,969.1V983.7" stroke="#0a0acd" stroke-width="3.5" fill="none"/>
<path d="M475.1,978.5H489.7M482.4,971.2V985.8" stroke="#0a0acd" stroke-width="3.5" fill="none"/>
<path d="M418.3,1020.2H432.9M425.6,1012.9V1027.5" stroke="#0a0acd" stroke-width="3.5" fill="none"/>
<path d="M402.7,1007.6H417.3M410.0,1000.3V1014.9" stroke="#0a0acd" stroke-width="3.5" fill="none"/>
<path d="M416.7,981.1H431.3M424.0,973.8V988.4" stroke="#0a0acd" stroke-width="3.5" fill="none"/>
<path d="M375.6,1023.6H390.2M382.9,1016.3V1030.9" stroke="#0a0acd" stroke-width="3.5" fill="none"/>
<path d="M418.2,1020.5H432.8M425.5,1013.2V1027.8" stroke="#0a0acd" stroke-width="3.5" fill="none"/>
<path d="M252.0,396.4L266.4,410.8M252.0,410.8L266.4,396.4" stroke="#0c7a10" stroke-width="3.0" fill="none"/>
<path d="M292.5,448.9L306.9,463.3M292.5,463.3L306.9,448.9" stroke="#0c7a10" stroke-width="3.0" fill="none"/>
<path d="M308.2,449.9L322.6,464.3M308.2,464.3L322.6,449.9" stroke="#0c7a10" stroke-width="2.0" fill="none"/>
<path d="M258.5,478.5L272.9,492.9M258.5,492.9L272.9,478.5" stroke="#0c7a10" stroke-width="3.0" fill="none"/>
<path d="M232.6,510.0L247.0,524.4M232.6,524.4L247.0,510.0" stroke="#0c7a10" stroke-width="3.0" fill="none"/>
<path d="M277.9,504.0L292.3,518.4M277.9,518.4L292.3,504.0" stroke="#0c7a10" stroke-width="3.0" fill="none"/>
<path d="M345.5,523.0L359.9,537.4M345.5,537.4L359.9,523.0" stroke="#0c7a10" stroke-width="3.0" fill="none"/>
<path d="M375.9,372.9L390.3,387.3M375.9,387.3L390.3,372.9" stroke="#0c7a10" stroke-width="3.0" fill="none"/>
<path d="M377.0,391.2L391.4,405.6M377.0,405.6L391.4,391.2" stroke="#0c7a10" stroke-width="3.0" fill="none"/>
<path d="M232.8,1066.9L247.2,1081.3M232.8,1081.3L247.2,1066.9" stroke="#0c7a10" stroke-width="3.0" fill="none"/>
<path d="M292.5,1059.9L306.9,1074.3M292.5,1074.3L306.9,1059.9" stroke="#0c7a10" stroke-width="3.0" fill="none"/>
<path d="M258.6,1109.8L273.0,1124.2M258.6,1124.2L273.0,1109.8" stroke="#0c7a10" stroke-width="3.0" fill="none"/>
<path d="M251.6,1124.3L266.0,1138.7M251.6,1138.7L266.0,1124.3" stroke="#0c7a10" stroke-width="3.0" fill="none"/>
<path d="M278.3,1127.8L292.7,1142.2M278.3,1142.2L292.7,1127.8" stroke="#0c7a10" stroke-width="3.0" fill="none"/>
<path d="M308.4,1105.6L322.8,1120.0M308.4,1120.0L322.8,1105.6" stroke="#0c7a10" stroke-width="2.0" fill="none"/>
<path d="M345.8,1011.7L360.2,1026.1M345.8,1026.1L360.2,1011.7" stroke="#0c7a10" stroke-width="3.0" fill="none"/>
<path d="M375.8,1023.7L390.2,1038.1M375.8,1038.1L390.2,1023.7" stroke="#0c7a10" stroke-width="3.0" fill="none"/>
<path d="M377.0,1040.5L391.4,1054.9M377.0,1054.9L391.4,1040.5" stroke="#0c7a10" stroke-width="3.0" fill="none"/>
<path d="M905.4,512.4H920.0M912.7,505.1V519.7" stroke="#0a0acd" stroke-width="3.5" fill="none"/>
<path d="M1009.5,539.7H1024.1M1016.8,532.4V547.0" stroke="#0a0acd" stroke-width="3.5" fill="none"/>
<path d="M1010.0,540.2H1024.6M1017.3,532.9V547.5" stroke="#0a0acd" stroke-width="3.5" fill="none"/>
<path d="M1076.0,333.6H1090.6M1083.3,326.3V340.9" stroke="#0a0acd" stroke-width="3.5" fill="none"/>
<path d="M1103.7,337.4H1118.3M1111.0,330.1V344.7" stroke="#0a0acd" stroke-width="3.5" fill="none"/>
<path d="M1096.6,359.2H1111.2M1103.9,351.9V366.5" stroke="#0a0acd" stroke-width="3.5" fill="none"/>
<path d="M1124.3,361.5H1138.9M1131.6,354.2V368.8" stroke="#0a0acd" stroke-width="3.5" fill="none"/>
<path d="M1139.5,312.4H1154.1M1146.8,305.1V319.7" stroke="#0a0acd" stroke-width="3.5" fill="none"/>
<path d="M1164.3,303.4H1178.9M1171.6,296.1V310.7" stroke="#0a0acd" stroke-width="3.5" fill="none"/>
<path d="M1151.9,324.4H1166.5M1159.2,317.1V331.7" stroke="#0a0acd" stroke-width="3.5" fill="none"/>
<path d="M1178.8,327.4H1193.4M1186.1,320.1V334.7" stroke="#0a0acd" stroke-width="3.5" fill="none"/>
<path d="M1168.5,350.4H1183.1M1175.8,343.1V357.7" stroke="#0a0acd" stroke-width="3.5" fill="none"/>
<path d="M1204.6,276.8H1219.2M1211.9,269.5V284.1" stroke="#0a0acd" stroke-width="3.5" fill="none"/>
<path d="M1196.5,290.5H1211.1M1203.8,283.2V297.8" stroke="#0a0acd" stroke-width="3.5" fill="none"/>
<path d="M1225.7,255.5H1240.3M1233.0,248.2V262.8" stroke="#0a0acd" stroke-width="3.5" fill="none"/>
<path d="M1157.3,224.5H1171.9M1164.6,217.2V231.8" stroke="#0a0acd" stroke-width="3.5" fill="none"/>
<path d="M1138.0,278.4H1152.6M1145.3,271.1V285.7" stroke="#0a0acd" stroke-width="3.5" fill="none"/>
<path d="M905.4,1073.4H920.0M912.7,1066.1V1080.7" stroke="#0a0acd" stroke-width="3.5" fill="none"/>
<path d="M1009.7,947.9H1024.3M1017.0,940.6V955.2" stroke="#0a0acd" stroke-width="3.5" fill="none"/>
<path d="M1103.6,954.5H1118.2M1110.9,947.2V961.8" stroke="#0a0acd" stroke-width="3.5" fill="none"/>
<path d="M1075.9,1066.9H1090.5M1083.2,1059.6V1074.2" stroke="#0a0acd" stroke-width="3.5" fill="none"/>
<path d="M1156.9,1077.5H1171.5M1164.2,1070.2V1084.8" stroke="#0a0acd" stroke-width="3.5" fill="none"/>
<path d="M1151.5,1128.4H1166.1M1158.8,1121.1V1135.7" stroke="#0a0acd" stroke-width="3.5" fill="none"/>
<path d="M1168.4,921.1H1183.0M1175.7,913.8V928.4" stroke="#0a0acd" stroke-width="3.5" fill="none"/>
<path d="M1204.7,953.1H1219.3M1212.0,945.8V960.4" stroke="#0a0acd" stroke-width="3.5" fill="none"/>
<path d="M1225.6,950.8H1240.2M1232.9,943.5V958.1" stroke="#0a0acd" stroke-width="3.5" fill="none"/>
<path d="M1178.7,964.5H1193.3M1186.0,957.2V971.8" stroke="#0a0acd" stroke-width="3.5" fill="none"/>
<path d="M1164.2,976.4H1178.8M1171.5,969.1V983.7" stroke="#0a0acd" stroke-width="3.5" fill="none"/>
<path d="M1196.6,978.5H1211.2M1203.9,971.2V985.8" stroke="#0a0acd" stroke-width="3.5" fill="none"/>
<path d="M1139.8,1020.2H1154.4M1147.1,1012.9V1027.5" stroke="#0a0acd" stroke-width="3.5" fill="none"/>
<path d="M1124.2,1007.6H1138.8M1131.5,1000.3V1014.9" stroke="#0a0acd" stroke-width="3.5" fill="none"/>
<path d="M1138.2,981.1H1152.8M1145.5,973.8V988.4" stroke="#0a0acd" stroke-width="3.5" fill="none"/>
<path d="M1097.1,1023.6H1111.7M1104.4,1016.3V1030.9" stroke="#0a0acd" stroke-width="3.5" fill="none"/>
<path d="M1139.7,1020.5H1154.3M1147.0,1013.2V1027.8" stroke="#0a0acd" stroke-width="3.5" fill="none"/>
<path d="M973.5,396.4L987.9,410.8M973.5,410.8L987.9,396.4" stroke="#0c7a10" stroke-width="3.0" fill="none"/>
<path d="M1014.0,448.9L1028.4,463.3M1014.0,463.3L1028.4,448.9" stroke="#0c7a10" stroke-width="3.0" fill="none"/>
<path d="M1029.7,449.9L1044.1,464.3M1029.7,464.3L1044.1,449.9" stroke="#0c7a10" stroke-width="2.0" fill="none"/>
<path d="M980.0,478.5L994.4,492.9M980.0,492.9L994.4,478.5" stroke="#0c7a10" stroke-width="3.0" fill="none"/>
<path d="M954.1,510.0L968.5,524.4M954.1,524.4L968.5,510.0" stroke="#0c7a10" stroke-width="3.0" fill="none"/>
<path d="M999.4,504.0L1013.8,518.4M999.4,518.4L1013.8,504.0" stroke="#0c7a10" stroke-width="3.0" fill="none"/>
<path d="M1067.0,523.0L1081.4,537.4M1067.0,537.4L1081.4,523.0" stroke="#0c7a10" stroke-width="3.0" fill="none"/>
<path d="M1097.4,372.9L1111.8,387.3M1097.4,387.3L1111.8,372.9" stroke="#0c7a10" stroke-width="3.0" fill="none"/>
<path d="M1098.5,391.2L1112.9,405.6M1098.5,405.6L1112.9,391.2" stroke="#0c7a10" stroke-width="3.0" fill="none"/>
<path d="M954.3,1066.9L968.7,1081.3M954.3,1081.3L968.7,1066.9" stroke="#0c7a10" stroke-width="3.0" fill="none"/>
<path d="M1014.0,1059.9L1028.4,1074.3M1014.0,1074.3L1028.4,1059.9" stroke="#0c7a10" stroke-width="3.0" fill="none"/>
<path d="M980.1,1109.8L994.5,1124.2M980.1,1124.2L994.5,1109.8" stroke="#0c7a10" stroke-width="3.0" fill="none"/>
<path d="M973.1,1124.3L987.5,1138.7M973.1,1138.7L987.5,1124.3" stroke="#0c7a10" stroke-width="3.0" fill="none"/>
<path d="M999.8,1127.8L1014.2,1142.2M999.8,1142.2L1014.2,1127.8" stroke="#0c7a10" stroke-width="3.0" fill="none"/>
<path d="M1029.9,1105.6L1044.3,1120.0M1029.9,1120.0L1044.3,1105.6" stroke="#0c7a10" stroke-width="2.0" fill="none"/>
<path d="M1067.3,1011.7L1081.7,1026.1M1067.3,1026.1L1081.7,1011.7" stroke="#0c7a10" stroke-width="3.0" fill="none"/>
<path d="M1097.3,1023.7L1111.7,1038.1M1097.3,1038.1L1111.7,1023.7" stroke="#0c7a10" stroke-width="3.0" fill="none"/>
<path d="M1098.5,1040.5L1112.9,1054.9M1098.5,1054.9L1112.9,1040.5" stroke="#0c7a10" stroke-width="3.0" fill="none"/>
<path d="M1626.9,512.4H1641.5M1634.2,505.1V519.7" stroke="#0a0acd" stroke-width="3.5" fill="none"/>
<path d="M1731.0,539.7H1745.6M1738.3,532.4V547.0" stroke="#0a0acd" stroke-width="3.5" fill="none"/>
<path d="M1731.5,540.2H1746.1M1738.8,532.9V547.5" stroke="#0a0acd" stroke-width="3.5" fill="none"/>
<path d="M1797.5,333.6H1812.1M1804.8,326.3V340.9" stroke="#0a0acd" stroke-width="3.5" fill="none"/>
<path d="M1825.2,337.4H1839.8M1832.5,330.1V344.7" stroke="#0a0acd" stroke-width="3.5" fill="none"/>
<path d="M1818.1,359.2H1832.7M1825.4,351.9V366.5" stroke="#0a0acd" stroke-width="3.5" fill="none"/>
<path d="M1845.8,361.5H1860.4M1853.1,354.2V368.8" stroke="#0a0acd" stroke-width="3.5" fill="none"/>
<path d="M1861.0,312.4H1875.6M1868.3,305.1V319.7" stroke="#0a0acd" stroke-width="3.5" fill="none"/>
<path d="M1885.8,303.4H1900.4M1893.1,296.1V310.7" stroke="#0a0acd" stroke-width="3.5" fill="none"/>
<path d="M1873.4,324.4H1888.0M1880.7,317.1V331.7" stroke="#0a0acd" stroke-width="3.5" fill="none"/>
<path d="M1900.3,327.4H1914.9M1907.6,320.1V334.7" stroke="#0a0acd" stroke-width="3.5" fill="none"/>
<path d="M1890.0,350.4H1904.6M1897.3,343.1V357.7" stroke="#0a0acd" stroke-width="3.5" fill="none"/>
<path d="M1926.1,276.8H1940.7M1933.4,269.5V284.1" stroke="#0a0acd" stroke-width="3.5" fill="none"/>
<path d="M1918.0,290.5H1932.6M1925.3,283.2V297.8" stroke="#0a0acd" stroke-width="3.5" fill="none"/>
<path d="M1947.2,255.5H1961.8M1954.5,248.2V262.8" stroke="#0a0acd" stroke-width="3.5" fill="none"/>
<path d="M1878.8,224.5H1893.4M1886.1,217.2V231.8" stroke="#0a0acd" stroke-width="3.5" fill="none"/>
<path d="M1859.5,278.4H1874.1M1866.8,271.1V285.7" stroke="#0a0acd" stroke-width="3.5" fill="none"/>
<path d="M1626.9,1073.4H1641.5M1634.2,1066.1V1080.7" stroke="#0a0acd" stroke-width="3.5" fill="none"/>
<path d="M1731.2,947.9H1745.8M1738.5,940.6V955.2" stroke="#0a0acd" stroke-width="3.5" fill="none"/>
<path d="M1825.1,954.5H1839.7M1832.4,947.2V961.8" stroke="#0a0acd" stroke-width="3.5" fill="none"/>
<path d="M1797.4,1066.9H1812.0M1804.7,1059.6V1074.2" stroke="#0a0acd" stroke-width="3.5" fill="none"/>
<path d="M1878.4,1077.5H1893.0M1885.7,1070.2V1084.8" stroke="#0a0acd" stroke-width="3.5" fill="none"/>
<path d="M1873.0,1128.4H1887.6M1880.3,1121.1V1135.7" stroke="#0a0acd" stroke-width="3.5" fill="none"/>
<path d="M1889.9,921.1H1904.5M1897.2,913.8V928.4" stroke="#0a0acd" stroke-width="3.5" fill="none"/>
<path d="M1926.2,953.1H1940.8M1933.5,945.8V960.4" stroke="#0a0acd" stroke-width="3.5" fill="none"/>
<path d="M1947.1,950.8H1961.7M1954.4,943.5V958.1" stroke="#0a0acd" stroke-width="3.5" fill="none"/>
<path d="M1900.2,964.5H1914.8M1907.5,957.2V971.8" stroke="#0a0acd" stroke-width="3.5" fill="none"/>
<path d="M1885.7,976.4H1900.3M1893.0,969.1V983.7" stroke="#0a0acd" stroke-width="3.5" fill="none"/>
<path d="M1918.1,978.5H1932.7M1925.4,971.2V985.8" stroke="#0a0acd" stroke-width="3.5" fill="none"/>
<path d="M1861.3,1020.2H1875.9M1868.6,1012.9V1027.5" stroke="#0a0acd" stroke-width="3.5" fill="none"/>
<path d="M1845.7,1007.6H1860.3M1853.0,1000.3V1014.9" stroke="#0a0acd" stroke-width="3.5" fill="none"/>
<path d="M1859.7,981.1H1874.3M1867.0,973.8V988.4" stroke="#0a0acd" stroke-width="3.5" fill="none"/>
<path d="M1818.6,1023.6H1833.2M1825.9,1016.3V1030.9" stroke="#0a0acd" stroke-width="3.5" fill="none"/>
<path d="M1861.2,1020.5H1875.8M1868.5,1013.2V1027.8" stroke="#0a0acd" stroke-width="3.5" fill="none"/>
<path d="M1695.0,396.4L1709.4,410.8M1695.0,410.8L1709.4,396.4" stroke="#0c7a10" stroke-width="3.0" fill="none"/>
<path d="M1735.5,448.9L1749.9,463.3M1735.5,463.3L1749.9,448.9" stroke="#0c7a10" stroke-width="3.0" fill="none"/>
<path d="M1751.2,449.9L1765.6,464.3M1751.2,464.3L1765.6,449.9" stroke="#0c7a10" stroke-width="2.0" fill="none"/>
<path d="M1701.5,478.5L1715.9,492.9M1701.5,492.9L1715.9,478.5" stroke="#0c7a10" stroke-width="3.0" fill="none"/>
<path d="M1675.6,510.0L1690.0,524.4M1675.6,524.4L1690.0,510.0" stroke="#0c7a10" stroke-width="3.0" fill="none"/>
<path d="M1720.9,504.0L1735.3,518.4M1720.9,518.4L1735.3,504.0" stroke="#0c7a10" stroke-width="3.0" fill="none"/>
<path d="M1788.5,523.0L1802.9,537.4M1788.5,537.4L1802.9,523.0" stroke="#0c7a10" stroke-width="3.0" fill="none"/>
<path d="M1818.9,372.9L1833.3,387.3M1818.9,387.3L1833.3,372.9" stroke="#0c7a10" stroke-width="3.0" fill="none"/>
<path d="M1820.0,391.2L1834.4,405.6M1820.0,405.6L1834.4,391.2" stroke="#0c7a10" stroke-width="3.0" fill="none"/>
<path d="M1675.8,1066.9L1690.2,1081.3M1675.8,1081.3L1690.2,1066.9" stroke="#0c7a10" stroke-width="3.0" fill="none"/>
<path d="M1735.5,1059.9L1749.9,1074.3M1735.5,1074.3L1749.9,1059.9" stroke="#0c7a10" stroke-width="3.0" fill="none"/>
<path d="M1701.6,1109.8L1716.0,1124.2M1701.6,1124.2L1716.0,1109.8" stroke="#0c7a10" stroke-width="3.0" fill="none"/>
<path d="M1694.6,1124.3L1709.0,1138.7M1694.6,1138.7L1709.0,1124.3" stroke="#0c7a10" stroke-width="3.0" fill="none"/>
<path d="M1721.3,1127.8L1735.7,1142.2M1721.3,1142.2L1735.7,1127.8" stroke="#0c7a10" stroke-width="3.0" fill="none"/>
<path d="M1751.4,1105.6L1765.8,1120.0M1751.4,1120.0L1765.8,1105.6" stroke="#0c7a10" stroke-width="2.0" fill="none"/>
<path d="M1788.8,1011.7L1803.2,1026.1M1788.8,1026.1L1803.2,1011.7" stroke="#0c7a10" stroke-width="3.0" fill="none"/>
<path d="M1818.8,1023.7L1833.2,1038.1M1818.8,1038.1L1833.2,1023.7" stroke="#0c7a10" stroke-width="3.0" fill="none"/>
<path d="M1820.0,1040.5L1834.4,1054.9M1820.0,1054.9L1834.4,1040.5" stroke="#0c7a10" stroke-width="3.0" fill="none"/>
<g fill="#000">
<rect x="149" y="25.1" width="2168" height="4"/>
<rect x="149" y="1266" width="2168" height="4"/>
<rect x="149" y="645" width="2168" height="4.5"/>
<rect x="149.1" y="25.1" width="2.9" height="1244.9"/>
<rect x="2313.2" y="25.1" width="3.6" height="1244.9"/>
<rect x="869.8" y="25.1" width="4.3" height="1244.9"/>
<rect x="1591.6" y="25.1" width="3.8" height="1244.9"/>
<rect x="151.5" y="59.2" width="5.5" height="3.8"/>
<rect x="151.5" y="93.6" width="7.5" height="3.8"/>
<rect x="151.5" y="128.1" width="5.5" height="3.8"/>
<rect x="151.5" y="162.5" width="7.5" height="3.8"/>
<rect x="151.5" y="196.9" width="5.5" height="3.8"/>
<rect x="151.5" y="231.4" width="7.5" height="3.8"/>
<rect x="151.5" y="265.9" width="5.5" height="3.8"/>
<rect x="151.5" y="300.3" width="7.5" height="3.8"/>
<rect x="151.5" y="334.8" width="5.5" height="3.8"/>
<rect x="151.5" y="369.2" width="7.5" height="3.8"/>
<rect x="151.5" y="403.7" width="5.5" height="3.8"/>
<rect x="151.5" y="438.1" width="7.5" height="3.8"/>
<rect x="151.5" y="472.6" width="5.5" height="3.8"/>
<rect x="151.5" y="507.0" width="7.5" height="3.8"/>
<rect x="151.5" y="541.5" width="5.5" height="3.8"/>
<rect x="151.5" y="575.9" width="7.5" height="3.8"/>
<rect x="151.5" y="610.4" width="5.5" height="3.8"/>
<rect x="151.5" y="722.9" width="5.5" height="3.8"/>
<rect x="151.5" y="800.5" width="7.5" height="3.8"/>
<rect x="151.5" y="878.1" width="5.5" height="3.8"/>
<rect x="151.5" y="955.7" width="7.5" height="3.8"/>
<rect x="151.5" y="1033.3" width="5.5" height="3.8"/>
<rect x="151.5" y="1110.9" width="7.5" height="3.8"/>
<rect x="151.5" y="1188.5" width="5.5" height="3.8"/>
<rect x="221.1" y="640.0" width="3.2" height="5.5"/>
<rect x="221.1" y="1261.0" width="3.2" height="5.5"/>
<rect x="293.2" y="638.0" width="3.2" height="7.5"/>
<rect x="293.2" y="1259.0" width="3.2" height="7.5"/>
<rect x="365.4" y="640.0" width="3.2" height="5.5"/>
<rect x="365.4" y="1261.0" width="3.2" height="5.5"/>
<rect x="437.5" y="638.0" width="3.2" height="7.5"/>
<rect x="437.5" y="1259.0" width="3.2" height="7.5"/>
<rect x="509.6" y="640.0" width="3.2" height="5.5"/>
<rect x="509.6" y="1261.0" width="3.2" height="5.5"/>
<rect x="581.8" y="638.0" width="3.2" height="7.5"/>
<rect x="581.8" y="1259.0" width="3.2" height="7.5"/>
<rect x="654.0" y="640.0" width="3.2" height="5.5"/>
<rect x="654.0" y="1261.0" width="3.2" height="5.5"/>
<rect x="726.1" y="638.0" width="3.2" height="7.5"/>
<rect x="726.1" y="1259.0" width="3.2" height="7.5"/>
<rect x="798.2" y="640.0" width="3.2" height="5.5"/>
<rect x="798.2" y="1261.0" width="3.2" height="5.5"/>
<rect x="873.6" y="59.2" width="5.5" height="3.8"/>
<rect x="873.6" y="93.6" width="7.5" height="3.8"/>
<rect x="873.6" y="128.1" width="5.5" height="3.8"/>
<rect x="873.6" y="162.5" width="7.5" height="3.8"/>
<rect x="873.6" y="196.9" width="5.5" height="3.8"/>
<rect x="873.6" y="231.4" width="7.5" height="3.8"/>
<rect x="873.6" y="265.9" width="5.5" height="3.8"/>
<rect x="873.6" y="300.3" width="7.5" height="3.8"/>
<rect x="873.6" y="334.8" width="5.5" height="3.8"/>
<rect x="873.6" y="369.2" width="7.5" height="3.8"/>
<rect x="873.6" y="403.7" width="5.5" height="3.8"/>
<rect x="873.6" y="438.1" width="7.5" height="3.8"/>
<rect x="873.6" y="472.6" width="5.5" height="3.8"/>
<rect x="873.6" y="507.0" width="7.5" height="3.8"/>
<rect x="873.6" y="541.5" width="5.5" height="3.8"/>
<rect x="873.6" y="575.9" width="7.5" height="3.8"/>
<rect x="873.6" y="610.4" width="5.5" height="3.8"/>
<rect x="873.6" y="722.9" width="5.5" height="3.8"/>
<rect x="873.6" y="800.5" width="7.5" height="3.8"/>
<rect x="873.6" y="878.1" width="5.5" height="3.8"/>
<rect x="873.6" y="955.7" width="7.5" height="3.8"/>
<rect x="873.6" y="1033.3" width="5.5" height="3.8"/>
<rect x="873.6" y="1110.9" width="7.5" height="3.8"/>
<rect x="873.6" y="1188.5" width="5.5" height="3.8"/>
<rect x="942.5" y="640.0" width="3.2" height="5.5"/>
<rect x="942.5" y="1261.0" width="3.2" height="5.5"/>
<rect x="1014.7" y="638.0" width="3.2" height="7.5"/>
<rect x="1014.7" y="1259.0" width="3.2" height="7.5"/>
<rect x="1086.9" y="640.0" width="3.2" height="5.5"/>
<rect x="1086.9" y="1261.0" width="3.2" height="5.5"/>
<rect x="1159.0" y="638.0" width="3.2" height="7.5"/>
<rect x="1159.0" y="1259.0" width="3.2" height="7.5"/>
<rect x="1231.2" y="640.0" width="3.2" height="5.5"/>
<rect x="1231.2" y="1261.0" width="3.2" height="5.5"/>
<rect x="1303.3" y="638.0" width="3.2" height="7.5"/>
<rect x="1303.3" y="1259.0" width="3.2" height="7.5"/>
<rect x="1375.5" y="640.0" width="3.2" height="5.5"/>
<rect x="1375.5" y="1261.0" width="3.2" height="5.5"/>
<rect x="1447.6" y="638.0" width="3.2" height="7.5"/>
<rect x="1447.6" y="1259.0" width="3.2" height="7.5"/>
<rect x="1519.8" y="640.0" width="3.2" height="5.5"/>
<rect x="1519.8" y="1261.0" width="3.2" height="5.5"/>
<rect x="1594.9" y="59.2" width="5.5" height="3.8"/>
<rect x="1594.9" y="93.6" width="7.5" height="3.8"/>
<rect x="1594.9" y="128.1" width="5.5" height="3.8"/>
<rect x="1594.9" y="162.5" width="7.5" height="3.8"/>
<rect x="1594.9" y="196.9" width="5.5" height="3.8"/>
<rect x="1594.9" y="231.4" width="7.5" height="3.8"/>
<rect x="1594.9" y="265.9" width="5.5" height="3.8"/>
<rect x="1594.9" y="300.3" width="7.5" height="3.8"/>
<rect x="1594.9" y="334.8" width="5.5" height="3.8"/>
<rect x="1594.9" y="369.2" width="7.5" height="3.8"/>
<rect x="1594.9" y="403.7" width="5.5" height="3.8"/>
<rect x="1594.9" y="438.1" width="7.5" height="3.8"/>
<rect x="1594.9" y="472.6" width="5.5" height="3.8"/>
<rect x="1594.9" y="507.0" width="7.5" height="3.8"/>
<rect x="1594.9" y="541.5" width="5.5" height="3.8"/>
<rect x="1594.9" y="575.9" width="7.5" height="3.8"/>
<rect x="1594.9" y="610.4" width="5.5" height="3.8"/>
<rect x="1594.9" y="722.9" width="5.5" height="3.8"/>
<rect x="1594.9" y="800.5" width="7.5" height="3.8"/>
<rect x="1594.9" y="878.1" width="5.5" height="3.8"/>
<rect x="1594.9" y="955.7" width="7.5" height="3.8"/>
<rect x="1594.9" y="1033.3" width="5.5" height="3.8"/>
<rect x="1594.9" y="1110.9" width="7.5" height="3.8"/>
<rect x="1594.9" y="1188.5" width="5.5" height="3.8"/>
<rect x="1664.1" y="640.0" width="3.2" height="5.5"/>
<rect x="1664.1" y="1261.0" width="3.2" height="5.5"/>
<rect x="1736.2" y="638.0" width="3.2" height="7.5"/>
<rect x="1736.2" y="1259.0" width="3.2" height="7.5"/>
<rect x="1808.4" y="640.0" width="3.2" height="5.5"/>
<rect x="1808.4" y="1261.0" width="3.2" height="5.5"/>
<rect x="1880.5" y="638.0" width="3.2" height="7.5"/>
<rect x="1880.5" y="1259.0" width="3.2" height="7.5"/>
<rect x="1952.7" y="640.0" width="3.2" height="5.5"/>
<rect x="1952.7" y="1261.0" width="3.2" height="5.5"/>
<rect x="2024.8" y="638.0" width="3.2" height="7.5"/>
<rect x="2024.8" y="1259.0" width="3.2" height="7.5"/>
<rect x="2097.0" y="640.0" width="3.2" height="5.5"/>
<rect x="2097.0" y="1261.0" width="3.2" height="5.5"/>
<rect x="2169.1" y="638.0" width="3.2" height="7.5"/>
<rect x="2169.1" y="1259.0" width="3.2" height="7.5"/>
<rect x="2241.2" y="640.0" width="3.2" height="5.5"/>
<rect x="2241.2" y="1261.0" width="3.2" height="5.5"/>
</g>
<g fill="#222">
<rect x="72" y="644.2" width="85" height="5.6"/>
<rect x="868.9" y="1249" width="6.2" height="61.8"/>
<rect x="1590" y="1232" width="5.8" height="76.8"/>
</g>
<g font-family="'Liberation Serif', serif" style="white-space:pre">
<text x="123.8" y="34.1" font-size="27" text-anchor="end" letter-spacing="1.4" font-weight="normal" fill="#111" >40.0</text>
<text x="123.8" y="103.0" font-size="27" text-anchor="end" letter-spacing="1.4" font-weight="normal" fill="#111" >39.5</text>
<text x="123.8" y="171.9" font-size="27" text-anchor="end" letter-spacing="1.4" font-weight="normal" fill="#111" >39.0</text>
<text x="123.8" y="240.8" font-size="27" text-anchor="end" letter-spacing="1.4" font-weight="normal" fill="#111" >38.5</text>
<text x="123.8" y="309.7" font-size="27" text-anchor="end" letter-spacing="1.4" font-weight="normal" fill="#111" >38.0</text>
<text x="123.8" y="378.6" font-size="27" text-anchor="end" letter-spacing="1.4" font-weight="normal" fill="#111" >37.5</text>
<text x="123.8" y="447.5" font-size="27" text-anchor="end" letter-spacing="1.4" font-weight="normal" fill="#111" >37.0</text>
<text x="123.8" y="516.4" font-size="27" text-anchor="end" letter-spacing="1.4" font-weight="normal" fill="#111" >36.5</text>
<text x="123.8" y="585.3" font-size="27" text-anchor="end" letter-spacing="1.4" font-weight="normal" fill="#111" >36.0</text>
<text x="123.8" y="640.9" font-size="27" text-anchor="end" letter-spacing="1.4" font-weight="normal" fill="#111" >35.5</text>
<text x="123.8" y="670.9" font-size="27" text-anchor="end" letter-spacing="1.4" font-weight="normal" fill="#111" >15.9</text>
<text x="123.8" y="809.4" font-size="27" text-anchor="end" letter-spacing="1.4" font-weight="normal" fill="#111" >15.7</text>
<text x="123.8" y="964.6" font-size="27" text-anchor="end" letter-spacing="1.4" font-weight="normal" fill="#111" >15.5</text>
<text x="123.8" y="1119.8" font-size="27" text-anchor="end" letter-spacing="1.4" font-weight="normal" fill="#111" >15.3</text>
<text x="123.8" y="1275.0" font-size="27" text-anchor="end" letter-spacing="1.4" font-weight="normal" fill="#111" >15.1</text>
<text x="295.0" y="1311.0" font-size="27" text-anchor="middle" letter-spacing="1.4" font-weight="normal" fill="#111" >16.5</text>
<text x="439.3" y="1311.0" font-size="27" text-anchor="middle" letter-spacing="1.4" font-weight="normal" fill="#111" >17.5</text>
<text x="583.6" y="1311.0" font-size="27" text-anchor="middle" letter-spacing="1.4" font-weight="normal" fill="#111" >18.5</text>
<text x="727.9" y="1311.0" font-size="27" text-anchor="middle" letter-spacing="1.4" font-weight="normal" fill="#111" >19.5</text>
<text x="1016.5" y="1311.0" font-size="27" text-anchor="middle" letter-spacing="1.4" font-weight="normal" fill="#111" >16.5</text>
<text x="1160.8" y="1311.0" font-size="27" text-anchor="middle" letter-spacing="1.4" font-weight="normal" fill="#111" >17.5</text>
<text x="1305.1" y="1311.0" font-size="27" text-anchor="middle" letter-spacing="1.4" font-weight="normal" fill="#111" >18.5</text>
<text x="1449.4" y="1311.0" font-size="27" text-anchor="middle" letter-spacing="1.4" font-weight="normal" fill="#111" >19.5</text>
<text x="1738.0" y="1311.0" font-size="27" text-anchor="middle" letter-spacing="1.4" font-weight="normal" fill="#111" >16.5</text>
<text x="1882.3" y="1311.0" font-size="27" text-anchor="middle" letter-spacing="1.4" font-weight="normal" fill="#111" >17.5</text>
<text x="2026.6" y="1311.0" font-size="27" text-anchor="middle" letter-spacing="1.4" font-weight="normal" fill="#111" >18.5</text>
<text x="2170.9" y="1311.0" font-size="27" text-anchor="middle" letter-spacing="1.4" font-weight="normal" fill="#111" >19.5</text>
<text x="149.8" y="1311.0" font-size="27" text-anchor="middle" letter-spacing="1.4" font-weight="normal" fill="#111" >15.5</text>
<text x="833.2" y="1311.0" font-size="27" text-anchor="middle" letter-spacing="1.4" font-weight="normal" fill="#111" >20.5</text>
<text x="910.9" y="1311.0" font-size="27" text-anchor="middle" letter-spacing="1.4" font-weight="normal" fill="#111" >15.5</text>
<text x="1562.6" y="1311.0" font-size="27" text-anchor="middle" letter-spacing="1.4" font-weight="normal" fill="#111" >20.5</text>
<text x="1625.7" y="1311.0" font-size="27" text-anchor="middle" letter-spacing="1.4" font-weight="normal" fill="#111" >15.5</text>
<text x="2313.7" y="1311.0" font-size="27" text-anchor="middle" letter-spacing="1.4" font-weight="normal" fill="#111" >20.5</text>
<text x="180.8" y="81.7" font-size="31" text-anchor="start" letter-spacing="2.5" font-weight="normal" fill="#111" >(a)</text>
<text x="903.6" y="83.0" font-size="31" text-anchor="start" letter-spacing="2.5" font-weight="normal" fill="#111" >(c)</text>
<text x="1625.3" y="83.0" font-size="31" text-anchor="start" letter-spacing="2.5" font-weight="normal" fill="#111" >(e)</text>
<text x="180.8" y="702.5" font-size="31" text-anchor="start" letter-spacing="2.5" font-weight="normal" fill="#111" >(b)</text>
<text x="904.2" y="703.5" font-size="31" text-anchor="start" letter-spacing="2.5" font-weight="normal" fill="#111" >(d)</text>
<text x="1625.3" y="703.5" font-size="31" text-anchor="start" letter-spacing="2.5" font-weight="normal" fill="#111" >(f)</text>
<g font-weight="bold" fill="#000">
<text x="420.9" y="1347.7" font-size="17" letter-spacing="3.0">206</text>
<text x="454.9" y="1366.7" font-size="36" letter-spacing="2.6">Pb</text>
<text x="501.9" y="1366.7" font-size="36">/</text>
<text x="515.2" y="1347.7" font-size="17" letter-spacing="2.4">204</text>
<text x="547.9" y="1366.7" font-size="36" letter-spacing="2.6">Pb</text>
</g>
<g font-weight="bold" fill="#000">
<text x="1146.9" y="1347.7" font-size="17" letter-spacing="3.0">206</text>
<text x="1180.9" y="1366.7" font-size="36" letter-spacing="2.6">Pb</text>
<text x="1227.9" y="1366.7" font-size="36">/</text>
<text x="1241.2" y="1347.7" font-size="17" letter-spacing="2.4">204</text>
<text x="1273.9" y="1366.7" font-size="36" letter-spacing="2.6">Pb</text>
</g>
<g font-weight="bold" fill="#000">
<text x="1872.9" y="1347.7" font-size="17" letter-spacing="3.0">206</text>
<text x="1906.9" y="1366.7" font-size="36" letter-spacing="2.6">Pb</text>
<text x="1953.9" y="1366.7" font-size="36">/</text>
<text x="1967.2" y="1347.7" font-size="17" letter-spacing="2.4">204</text>
<text x="1999.9" y="1366.7" font-size="36" letter-spacing="2.6">Pb</text>
</g>
<g font-weight="bold" fill="#000" transform="rotate(-90 45.2 389.6)">
<text x="45.2" y="370.6" font-size="17" letter-spacing="3.0">208</text>
<text x="79.2" y="389.6" font-size="36" letter-spacing="2.6">Pb</text>
<text x="126.2" y="389.6" font-size="36">/</text>
<text x="139.5" y="370.6" font-size="17" letter-spacing="2.4">204</text>
<text x="172.2" y="389.6" font-size="36" letter-spacing="2.6">Pb</text>
</g>
<g font-weight="bold" fill="#000" transform="rotate(-90 46.4 1042.5)">
<text x="46.4" y="1023.5" font-size="17" letter-spacing="3.0">207</text>
<text x="80.4" y="1042.5" font-size="36" letter-spacing="2.6">Pb</text>
<text x="127.4" y="1042.5" font-size="36">/</text>
<text x="140.7" y="1023.5" font-size="17" letter-spacing="2.4">204</text>
<text x="173.4" y="1042.5" font-size="36" letter-spacing="2.6">Pb</text>
</g>
<text x="290.3" y="382.5" font-size="25" letter-spacing="1.0" fill="#111" transform="rotate(-48.3 290.3 382.5)">Lower Crust</text>
<text x="1004.3" y="390.6" font-size="25" letter-spacing="1.0" fill="#111" transform="rotate(-47.8 1004.3 390.6)">Lower Crust</text>
<text x="1744.0" y="372.1" font-size="25" letter-spacing="1.0" fill="#111" transform="rotate(-48.6 1744.0 372.1)">Lower Crust</text>
<text x="572.3" y="262.9" font-size="25" letter-spacing="1.0" fill="#111" transform="rotate(-50.0 572.3 262.9)">Mantle</text>
<text x="1291.0" y="262.2" font-size="25" letter-spacing="1.0" fill="#111" transform="rotate(-49.3 1291.0 262.2)">Mantle</text>
<text x="2015.8" y="263.2" font-size="25" letter-spacing="1.0" fill="#111" transform="rotate(-49.3 2015.8 263.2)">Mantle</text>
<text x="667.3" y="232.3" font-size="25" letter-spacing="1.0" fill="#111" transform="rotate(-49.1 667.3 232.3)">Upper Crust</text>
<text x="1391.6" y="230.6" font-size="25" letter-spacing="1.0" fill="#111" transform="rotate(-49.8 1391.6 230.6)">Upper Crust</text>
<text x="2112.3" y="231.8" font-size="25" letter-spacing="1.0" fill="#111" transform="rotate(-48.8 2112.3 231.8)">Upper Crust</text>
<text x="600.3" y="330.0" font-size="25" text-anchor="start" letter-spacing="1.4" font-weight="normal" fill="#111" >Orogen</text>
<text x="1325.0" y="333.5" font-size="25" text-anchor="start" letter-spacing="1.4" font-weight="normal" fill="#111" >Orogen</text>
<text x="2041.3" y="332.5" font-size="25" text-anchor="start" letter-spacing="1.4" font-weight="normal" fill="#111" >Orogen</text>
<text x="726.5" y="808.8" font-size="25" text-anchor="start" letter-spacing="1.0" font-weight="normal" fill="#111" >Upper  Crust</text>
<text x="650.0" y="879.5" font-size="25" text-anchor="start" letter-spacing="1.4" font-weight="normal" fill="#111" >Orogen</text>
<text x="520.5" y="989.5" font-size="25" text-anchor="start" letter-spacing="1.0" font-weight="normal" fill="#111" >Mantle</text>
<text x="453.0" y="1049.8" font-size="25" text-anchor="start" letter-spacing="1.0" font-weight="normal" fill="#111" >Lower Crust</text>
<text x="1450.5" y="808.8" font-size="25" text-anchor="start" letter-spacing="1.0" font-weight="normal" fill="#111" >Upper  Crust</text>
<text x="1370.5" y="879.5" font-size="25" text-anchor="start" letter-spacing="1.4" font-weight="normal" fill="#111" >Orogen</text>
<text x="1242.5" y="989.5" font-size="25" text-anchor="start" letter-spacing="1.0" font-weight="normal" fill="#111" >Mantle</text>
<text x="1174.0" y="1046.8" font-size="25" text-anchor="start" letter-spacing="1.0" font-weight="normal" fill="#111" >Lower Crust</text>
<text x="2171.5" y="808.8" font-size="25" text-anchor="start" letter-spacing="1.0" font-weight="normal" fill="#111" >Upper  Crust</text>
<text x="2092.5" y="879.5" font-size="25" text-anchor="start" letter-spacing="1.4" font-weight="normal" fill="#111" >Orogen</text>
<text x="1964.0" y="989.5" font-size="25" text-anchor="start" letter-spacing="1.0" font-weight="normal" fill="#111" >Mantle</text>
<text x="1895.5" y="1053.6" font-size="25" text-anchor="start" letter-spacing="1.0" font-weight="normal" fill="#111" >Lower Crust</text>
<text x="578.4" y="1134.7" font-size="24.5" text-anchor="start" letter-spacing="1.1" font-weight="normal" fill="#111" >155-130 Ma Mo deposits</text>
<text x="578.4" y="1169.7" font-size="24.5" text-anchor="start" letter-spacing="1.1" font-weight="normal" fill="#111" >127-116 Ma Mo deposits</text>
<text x="577.3" y="1204.7" font-size="24.5" text-anchor="start" letter-spacing="1.1" font-weight="normal" fill="#111" >Taihua  Group</text>
<text x="578.4" y="1239.6" font-size="24.5" text-anchor="start" letter-spacing="1.1" font-weight="normal" fill="#111" >Xiong’ er  Group</text>
<text x="1307.8" y="1170.8" font-size="24.5" text-anchor="start" letter-spacing="1.1" font-weight="normal" fill="#111" >163-118Ma  Au deposits</text>
<text x="1306.7" y="1204.3" font-size="24.5" text-anchor="start" letter-spacing="1.1" font-weight="normal" fill="#111" >Taihua  Group</text>
<text x="1307.7" y="1238.9" font-size="24.5" text-anchor="start" letter-spacing="1.1" font-weight="normal" fill="#111" >Xiong’ er  Group</text>
<text x="1993.6" y="1134.4" font-size="24.5" text-anchor="start" letter-spacing="1.1" font-weight="normal" fill="#111" >144-130 Ma Pb-Zn deposits</text>
<text x="1993.6" y="1170.0" font-size="24.5" text-anchor="start" letter-spacing="1.1" font-weight="normal" fill="#111" >125-117 Ma Pb-Zn deposits</text>
<text x="1992.8" y="1205.4" font-size="24.5" text-anchor="start" letter-spacing="1.1" font-weight="normal" fill="#111" >Taihua  Group</text>
<text x="1993.9" y="1240.8" font-size="24.5" text-anchor="start" letter-spacing="1.1" font-weight="normal" fill="#111" >Xiong’ er  Group</text>
</g>
<circle cx="559.8" cy="1125.0" r="6.8" stroke="#cc1414" stroke-width="3.0" fill="none"/>
<circle cx="559.8" cy="1160.3" r="6.8" stroke="#0a0acd" stroke-width="3.0" fill="none"/>
<path d="M552.2,1195.3H566.8M559.5,1188.0V1202.6" stroke="#0a0acd" stroke-width="3.2" fill="none"/>
<path d="M552.6,1223.1L567.0,1237.5M552.6,1237.5L567.0,1223.1" stroke="#0c7a10" stroke-width="2.8" fill="none"/>
<rect x="1268.2" y="1154.7" width="13.6" height="13.6" stroke="#cc1414" stroke-width="3.0" fill="none"/>
<path d="M1267.7,1195.6H1282.3M1275.0,1188.3V1202.9" stroke="#0a0acd" stroke-width="3.2" fill="none"/>
<path d="M1267.8,1222.8L1282.2,1237.2M1267.8,1237.2L1282.2,1222.8" stroke="#0c7a10" stroke-width="2.8" fill="none"/>
<path d="M1970.6,1118.1L1977.2,1124.7L1970.6,1131.3L1964.0,1124.7Z" stroke="#0c7a10" stroke-width="2.7" fill="none"/>
<path d="M1970.6,1154.0L1977.2,1160.6L1970.6,1167.2L1964.0,1160.6Z" stroke="#cc1414" stroke-width="2.7" fill="none"/>
<path d="M1963.1,1195.4H1977.7M1970.4,1188.1V1202.7" stroke="#0a0acd" stroke-width="3.2" fill="none"/>
<path d="M1963.1,1223.6L1977.5,1238.0M1963.1,1238.0L1977.5,1223.6" stroke="#0c7a10" stroke-width="2.8" fill="none"/>
</svg></body></html>
